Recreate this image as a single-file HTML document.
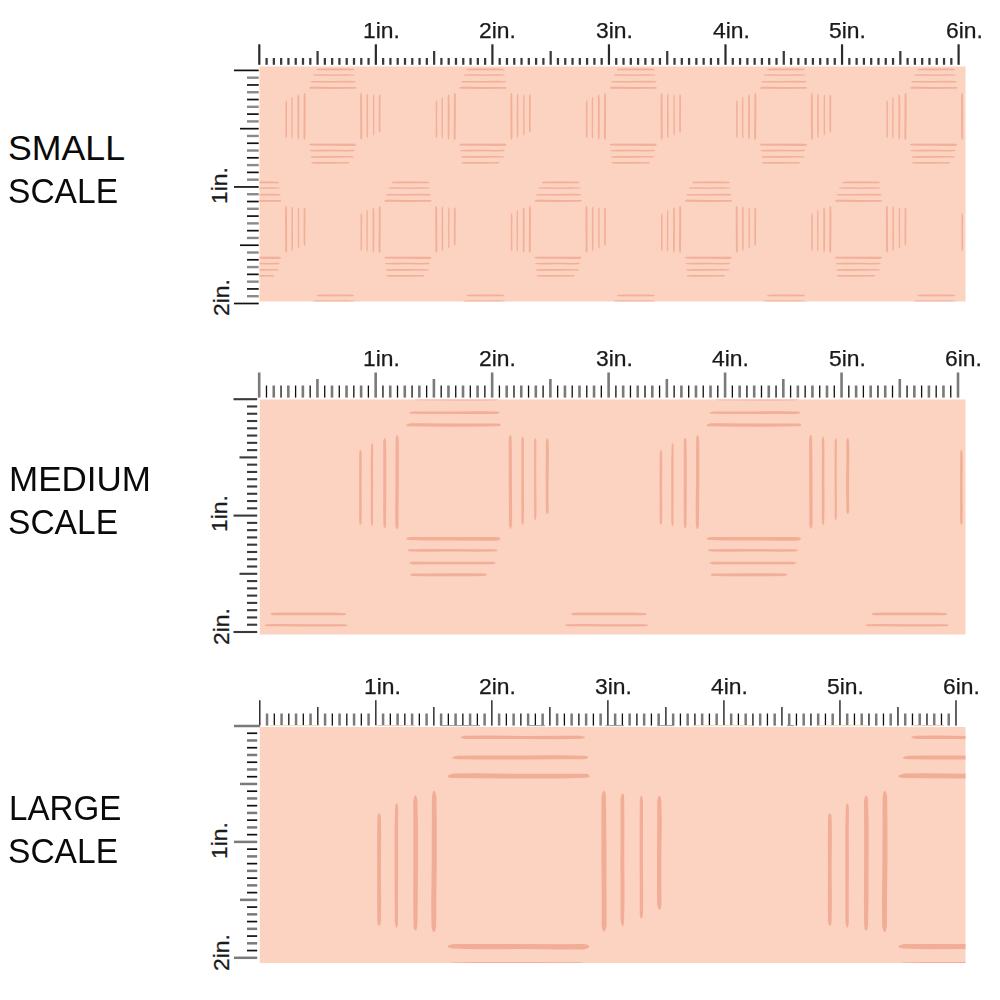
<!DOCTYPE html>
<html><head><meta charset="utf-8"><title>Fabric scale</title>
<style>
html,body{margin:0;padding:0;background:#fff;}
body{width:1000px;height:1000px;position:relative;overflow:hidden;font-family:"Liberation Sans",sans-serif;}
svg{position:absolute;left:0;top:0;}
.tt{position:absolute;font-size:35.7px;line-height:43px;color:#0a0a0a;white-space:nowrap;transform-origin:0 0;}
.tl{position:absolute;font-size:22px;line-height:22px;color:#1a1a1a;-webkit-text-stroke:0.25px #1a1a1a;white-space:nowrap;transform-origin:0 0;transform:scaleX(1.04);}
.ll{position:absolute;font-size:22px;line-height:22px;color:#1a1a1a;-webkit-text-stroke:0.25px #1a1a1a;white-space:nowrap;transform-origin:0 0;transform:rotate(-90deg) translate(0,-100%) scaleX(1.04);}
</style></head><body>
<svg width="1000" height="1000" viewBox="0 0 1000 1000">
<defs><filter id="b1" x="-5%" y="-5%" width="110%" height="110%"><feGaussianBlur stdDeviation="0.35"/></filter><filter id="b2" x="-5%" y="-5%" width="110%" height="110%"><feGaussianBlur stdDeviation="0.4"/></filter><filter id="b3" x="-5%" y="-5%" width="110%" height="110%"><feGaussianBlur stdDeviation="0.5"/></filter></defs>
<rect x="258.20" y="44.30" width="2.20" height="20.50" fill="#2a2a2a"/>
<rect x="265.46" y="58.00" width="2.25" height="6.80" fill="#3a3a3a"/>
<rect x="272.74" y="58.00" width="2.25" height="6.80" fill="#3a3a3a"/>
<rect x="280.03" y="58.00" width="2.25" height="6.80" fill="#3a3a3a"/>
<rect x="287.31" y="58.00" width="2.25" height="6.80" fill="#3a3a3a"/>
<rect x="294.60" y="58.00" width="2.25" height="6.80" fill="#3a3a3a"/>
<rect x="301.88" y="58.00" width="2.25" height="6.80" fill="#3a3a3a"/>
<rect x="309.17" y="58.00" width="2.25" height="6.80" fill="#3a3a3a"/>
<rect x="316.45" y="51.00" width="2.25" height="13.80" fill="#3a3a3a"/>
<rect x="323.73" y="58.00" width="2.25" height="6.80" fill="#3a3a3a"/>
<rect x="331.02" y="58.00" width="2.25" height="6.80" fill="#3a3a3a"/>
<rect x="338.30" y="58.00" width="2.25" height="6.80" fill="#3a3a3a"/>
<rect x="345.59" y="58.00" width="2.25" height="6.80" fill="#3a3a3a"/>
<rect x="352.87" y="58.00" width="2.25" height="6.80" fill="#3a3a3a"/>
<rect x="360.16" y="58.00" width="2.25" height="6.80" fill="#3a3a3a"/>
<rect x="367.44" y="58.00" width="2.25" height="6.80" fill="#3a3a3a"/>
<rect x="374.75" y="44.30" width="2.20" height="20.50" fill="#2a2a2a"/>
<rect x="382.01" y="58.00" width="2.25" height="6.80" fill="#3a3a3a"/>
<rect x="389.29" y="58.00" width="2.25" height="6.80" fill="#3a3a3a"/>
<rect x="396.58" y="58.00" width="2.25" height="6.80" fill="#3a3a3a"/>
<rect x="403.86" y="58.00" width="2.25" height="6.80" fill="#3a3a3a"/>
<rect x="411.15" y="58.00" width="2.25" height="6.80" fill="#3a3a3a"/>
<rect x="418.43" y="58.00" width="2.25" height="6.80" fill="#3a3a3a"/>
<rect x="425.72" y="58.00" width="2.25" height="6.80" fill="#3a3a3a"/>
<rect x="433.00" y="51.00" width="2.25" height="13.80" fill="#3a3a3a"/>
<rect x="440.28" y="58.00" width="2.25" height="6.80" fill="#3a3a3a"/>
<rect x="447.57" y="58.00" width="2.25" height="6.80" fill="#3a3a3a"/>
<rect x="454.85" y="58.00" width="2.25" height="6.80" fill="#3a3a3a"/>
<rect x="462.14" y="58.00" width="2.25" height="6.80" fill="#3a3a3a"/>
<rect x="469.42" y="58.00" width="2.25" height="6.80" fill="#3a3a3a"/>
<rect x="476.71" y="58.00" width="2.25" height="6.80" fill="#3a3a3a"/>
<rect x="483.99" y="58.00" width="2.25" height="6.80" fill="#3a3a3a"/>
<rect x="491.30" y="44.30" width="2.20" height="20.50" fill="#2a2a2a"/>
<rect x="498.56" y="58.00" width="2.25" height="6.80" fill="#3a3a3a"/>
<rect x="505.84" y="58.00" width="2.25" height="6.80" fill="#3a3a3a"/>
<rect x="513.13" y="58.00" width="2.25" height="6.80" fill="#3a3a3a"/>
<rect x="520.41" y="58.00" width="2.25" height="6.80" fill="#3a3a3a"/>
<rect x="527.70" y="58.00" width="2.25" height="6.80" fill="#3a3a3a"/>
<rect x="534.98" y="58.00" width="2.25" height="6.80" fill="#3a3a3a"/>
<rect x="542.27" y="58.00" width="2.25" height="6.80" fill="#3a3a3a"/>
<rect x="549.55" y="51.00" width="2.25" height="13.80" fill="#3a3a3a"/>
<rect x="556.83" y="58.00" width="2.25" height="6.80" fill="#3a3a3a"/>
<rect x="564.12" y="58.00" width="2.25" height="6.80" fill="#3a3a3a"/>
<rect x="571.40" y="58.00" width="2.25" height="6.80" fill="#3a3a3a"/>
<rect x="578.69" y="58.00" width="2.25" height="6.80" fill="#3a3a3a"/>
<rect x="585.97" y="58.00" width="2.25" height="6.80" fill="#3a3a3a"/>
<rect x="593.26" y="58.00" width="2.25" height="6.80" fill="#3a3a3a"/>
<rect x="600.54" y="58.00" width="2.25" height="6.80" fill="#3a3a3a"/>
<rect x="607.85" y="44.30" width="2.20" height="20.50" fill="#2a2a2a"/>
<rect x="615.11" y="58.00" width="2.25" height="6.80" fill="#3a3a3a"/>
<rect x="622.39" y="58.00" width="2.25" height="6.80" fill="#3a3a3a"/>
<rect x="629.68" y="58.00" width="2.25" height="6.80" fill="#3a3a3a"/>
<rect x="636.96" y="58.00" width="2.25" height="6.80" fill="#3a3a3a"/>
<rect x="644.25" y="58.00" width="2.25" height="6.80" fill="#3a3a3a"/>
<rect x="651.53" y="58.00" width="2.25" height="6.80" fill="#3a3a3a"/>
<rect x="658.82" y="58.00" width="2.25" height="6.80" fill="#3a3a3a"/>
<rect x="666.10" y="51.00" width="2.25" height="13.80" fill="#3a3a3a"/>
<rect x="673.38" y="58.00" width="2.25" height="6.80" fill="#3a3a3a"/>
<rect x="680.67" y="58.00" width="2.25" height="6.80" fill="#3a3a3a"/>
<rect x="687.95" y="58.00" width="2.25" height="6.80" fill="#3a3a3a"/>
<rect x="695.24" y="58.00" width="2.25" height="6.80" fill="#3a3a3a"/>
<rect x="702.52" y="58.00" width="2.25" height="6.80" fill="#3a3a3a"/>
<rect x="709.81" y="58.00" width="2.25" height="6.80" fill="#3a3a3a"/>
<rect x="717.09" y="58.00" width="2.25" height="6.80" fill="#3a3a3a"/>
<rect x="724.40" y="44.30" width="2.20" height="20.50" fill="#2a2a2a"/>
<rect x="731.66" y="58.00" width="2.25" height="6.80" fill="#3a3a3a"/>
<rect x="738.94" y="58.00" width="2.25" height="6.80" fill="#3a3a3a"/>
<rect x="746.23" y="58.00" width="2.25" height="6.80" fill="#3a3a3a"/>
<rect x="753.51" y="58.00" width="2.25" height="6.80" fill="#3a3a3a"/>
<rect x="760.80" y="58.00" width="2.25" height="6.80" fill="#3a3a3a"/>
<rect x="768.08" y="58.00" width="2.25" height="6.80" fill="#3a3a3a"/>
<rect x="775.37" y="58.00" width="2.25" height="6.80" fill="#3a3a3a"/>
<rect x="782.65" y="51.00" width="2.25" height="13.80" fill="#3a3a3a"/>
<rect x="789.93" y="58.00" width="2.25" height="6.80" fill="#3a3a3a"/>
<rect x="797.22" y="58.00" width="2.25" height="6.80" fill="#3a3a3a"/>
<rect x="804.50" y="58.00" width="2.25" height="6.80" fill="#3a3a3a"/>
<rect x="811.79" y="58.00" width="2.25" height="6.80" fill="#3a3a3a"/>
<rect x="819.07" y="58.00" width="2.25" height="6.80" fill="#3a3a3a"/>
<rect x="826.36" y="58.00" width="2.25" height="6.80" fill="#3a3a3a"/>
<rect x="833.64" y="58.00" width="2.25" height="6.80" fill="#3a3a3a"/>
<rect x="840.95" y="44.30" width="2.20" height="20.50" fill="#2a2a2a"/>
<rect x="848.21" y="58.00" width="2.25" height="6.80" fill="#3a3a3a"/>
<rect x="855.49" y="58.00" width="2.25" height="6.80" fill="#3a3a3a"/>
<rect x="862.78" y="58.00" width="2.25" height="6.80" fill="#3a3a3a"/>
<rect x="870.06" y="58.00" width="2.25" height="6.80" fill="#3a3a3a"/>
<rect x="877.35" y="58.00" width="2.25" height="6.80" fill="#3a3a3a"/>
<rect x="884.63" y="58.00" width="2.25" height="6.80" fill="#3a3a3a"/>
<rect x="891.92" y="58.00" width="2.25" height="6.80" fill="#3a3a3a"/>
<rect x="899.20" y="51.00" width="2.25" height="13.80" fill="#3a3a3a"/>
<rect x="906.48" y="58.00" width="2.25" height="6.80" fill="#3a3a3a"/>
<rect x="913.77" y="58.00" width="2.25" height="6.80" fill="#3a3a3a"/>
<rect x="921.05" y="58.00" width="2.25" height="6.80" fill="#3a3a3a"/>
<rect x="928.34" y="58.00" width="2.25" height="6.80" fill="#3a3a3a"/>
<rect x="935.62" y="58.00" width="2.25" height="6.80" fill="#3a3a3a"/>
<rect x="942.91" y="58.00" width="2.25" height="6.80" fill="#3a3a3a"/>
<rect x="950.19" y="58.00" width="2.25" height="6.80" fill="#3a3a3a"/>
<rect x="957.50" y="44.30" width="2.20" height="20.50" fill="#2a2a2a"/>
<rect x="234.00" y="69.55" width="24.70" height="1.70" fill="#111"/>
<rect x="247.00" y="76.48" width="11.70" height="2.40" fill="#8a8a8a"/>
<rect x="247.00" y="84.12" width="11.70" height="1.70" fill="#111"/>
<rect x="247.00" y="91.05" width="11.70" height="2.40" fill="#8a8a8a"/>
<rect x="247.00" y="98.69" width="11.70" height="1.70" fill="#111"/>
<rect x="247.00" y="105.62" width="11.70" height="2.40" fill="#8a8a8a"/>
<rect x="247.00" y="113.26" width="11.70" height="1.70" fill="#111"/>
<rect x="247.00" y="120.19" width="11.70" height="2.40" fill="#8a8a8a"/>
<rect x="240.00" y="127.83" width="18.70" height="1.70" fill="#111"/>
<rect x="247.00" y="134.76" width="11.70" height="2.40" fill="#8a8a8a"/>
<rect x="247.00" y="142.39" width="11.70" height="1.70" fill="#111"/>
<rect x="247.00" y="149.33" width="11.70" height="2.40" fill="#8a8a8a"/>
<rect x="247.00" y="156.96" width="11.70" height="1.70" fill="#111"/>
<rect x="247.00" y="163.90" width="11.70" height="2.40" fill="#8a8a8a"/>
<rect x="247.00" y="171.53" width="11.70" height="1.70" fill="#111"/>
<rect x="247.00" y="178.47" width="11.70" height="2.40" fill="#8a8a8a"/>
<rect x="234.00" y="186.10" width="24.70" height="1.70" fill="#111"/>
<rect x="247.00" y="193.03" width="11.70" height="2.40" fill="#8a8a8a"/>
<rect x="247.00" y="200.67" width="11.70" height="1.70" fill="#111"/>
<rect x="247.00" y="207.60" width="11.70" height="2.40" fill="#8a8a8a"/>
<rect x="247.00" y="215.24" width="11.70" height="1.70" fill="#111"/>
<rect x="247.00" y="222.17" width="11.70" height="2.40" fill="#8a8a8a"/>
<rect x="247.00" y="229.81" width="11.70" height="1.70" fill="#111"/>
<rect x="247.00" y="236.74" width="11.70" height="2.40" fill="#8a8a8a"/>
<rect x="240.00" y="244.38" width="18.70" height="1.70" fill="#111"/>
<rect x="247.00" y="251.31" width="11.70" height="2.40" fill="#8a8a8a"/>
<rect x="247.00" y="258.94" width="11.70" height="1.70" fill="#111"/>
<rect x="247.00" y="265.88" width="11.70" height="2.40" fill="#8a8a8a"/>
<rect x="247.00" y="273.51" width="11.70" height="1.70" fill="#111"/>
<rect x="247.00" y="280.45" width="11.70" height="2.40" fill="#8a8a8a"/>
<rect x="247.00" y="288.08" width="11.70" height="1.70" fill="#111"/>
<rect x="247.00" y="295.02" width="11.70" height="2.40" fill="#8a8a8a"/>
<rect x="234.00" y="302.65" width="24.70" height="1.70" fill="#111"/>
<clipPath id="c1"><rect x="259.50" y="66.50" width="706.00" height="235.00"/></clipPath>
<rect x="259.50" y="66.50" width="706.00" height="235.00" fill="#fcd2c0"/>
<g clip-path="url(#c1)" fill="#f1ad95" opacity="0.92"><g filter="url(#b1)">
<polygon points="210.96,213.40 210.57,213.85 210.42,214.89 210.33,220.87 210.35,232.07 210.33,243.27 210.37,249.24 210.60,250.29 210.88,250.73 211.28,250.73 211.69,250.29 211.82,249.24 211.93,243.27 211.81,232.07 211.93,220.87 211.83,214.89 211.64,213.85 211.36,213.40"/>
<polygon points="216.78,210.07 216.50,210.56 216.37,211.72 216.14,218.33 216.16,230.73 216.17,243.13 216.19,249.75 216.56,250.90 216.66,251.40 217.01,251.40 217.37,250.90 217.52,249.75 217.48,243.13 217.56,230.73 217.51,218.33 217.59,211.72 217.41,210.56 217.13,210.07"/>
<polygon points="222.96,207.40 222.70,207.94 222.33,209.20 222.39,216.40 222.39,229.90 222.32,243.40 222.44,250.60 222.57,251.86 223.08,252.40 223.53,252.40 223.69,251.86 223.98,250.60 224.12,243.40 224.19,229.90 224.19,216.40 224.00,209.20 223.75,207.94 223.41,207.40"/>
<polygon points="229.07,205.90 228.89,206.46 228.58,207.78 228.53,215.30 228.50,229.40 228.30,243.50 228.39,251.02 228.76,252.34 229.15,252.90 229.65,252.90 229.96,252.34 230.28,251.02 230.30,243.50 230.50,229.40 230.48,215.30 230.39,207.78 230.04,206.46 229.57,205.90"/>
<polygon points="285.79,205.90 285.44,206.46 285.07,207.77 285.04,215.27 285.06,229.32 285.21,243.37 285.17,250.86 285.54,252.17 285.81,252.73 286.31,252.73 286.69,252.17 287.10,250.86 287.09,243.37 287.05,229.32 286.96,215.27 286.85,207.77 286.64,206.46 286.29,205.90"/>
<polygon points="292.13,206.73 291.80,207.26 291.44,208.50 291.48,215.57 291.41,228.82 291.45,242.07 291.47,249.13 291.82,250.37 292.10,250.90 292.50,250.90 292.71,250.37 292.85,249.13 293.05,242.07 292.94,228.82 292.99,215.57 292.91,208.50 292.79,207.26 292.53,206.73"/>
<polygon points="298.32,207.57 298.11,208.06 297.88,209.20 297.85,215.73 297.83,227.98 297.89,240.23 297.86,246.77 298.08,247.91 298.30,248.40 298.65,248.40 298.91,247.91 299.20,246.77 299.23,240.23 299.13,227.98 299.16,215.73 299.18,209.20 298.92,208.06 298.67,207.57"/>
<polygon points="304.33,207.57 303.98,208.02 303.67,209.08 303.69,215.13 303.60,226.48 303.61,237.83 303.69,243.89 304.00,244.95 304.28,245.40 304.73,245.40 305.10,244.95 305.35,243.89 305.29,237.83 305.31,226.48 305.49,215.13 305.30,209.08 305.08,208.02 304.78,207.57"/>
<polygon points="241.40,182.52 241.85,182.99 242.91,183.20 248.93,183.15 260.23,183.16 271.53,183.16 277.56,183.22 278.61,183.02 279.07,182.57 279.07,182.15 278.61,181.92 277.56,181.74 271.53,181.51 260.23,181.51 248.93,181.47 242.91,181.65 241.85,181.98 241.40,182.10"/>
<polygon points="238.30,188.16 238.80,188.39 239.96,188.67 246.59,188.66 259.02,188.69 271.45,188.72 278.08,188.59 279.24,188.39 279.73,188.25 279.73,187.91 279.24,187.63 278.08,187.40 271.45,187.36 259.02,187.45 246.59,187.31 239.96,187.38 238.80,187.61 238.30,187.82"/>
<polygon points="235.53,195.03 236.08,195.27 237.34,195.41 244.57,195.56 258.13,195.50 271.69,195.47 278.93,195.47 280.19,195.20 280.73,194.84 280.73,194.44 280.19,194.14 278.93,194.03 271.69,193.87 258.13,193.97 244.57,193.96 237.34,194.06 236.08,194.33 235.53,194.63"/>
<polygon points="234.00,201.24 234.57,201.58 235.89,201.71 243.45,201.79 257.62,201.92 271.79,201.86 279.34,201.64 280.67,201.49 281.23,201.26 281.23,200.76 280.67,200.12 279.34,199.97 271.79,199.97 257.62,200.03 243.45,199.80 235.89,199.86 234.57,200.38 234.00,200.74"/>
<polygon points="234.07,257.93 234.63,258.35 235.95,258.58 243.47,258.86 257.57,258.77 271.67,258.92 279.19,258.91 280.50,258.49 281.07,258.05 281.07,257.50 280.50,257.00 279.19,256.78 271.67,256.80 257.57,256.74 243.47,256.74 235.95,256.74 234.63,257.11 234.07,257.38"/>
<polygon points="234.73,263.81 235.27,264.01 236.53,264.31 243.70,264.38 257.15,264.26 270.60,264.43 277.77,264.23 279.03,264.12 279.57,263.80 279.57,263.40 279.03,263.08 277.77,262.85 270.60,262.89 257.15,262.79 243.70,262.78 236.53,262.94 235.27,262.94 234.73,263.41"/>
<polygon points="235.53,270.18 236.05,270.26 237.26,270.75 244.17,270.67 257.13,270.68 270.09,270.61 277.01,270.61 278.21,270.40 278.73,270.08 278.73,269.68 278.21,269.48 277.01,269.21 270.09,269.10 257.13,269.09 244.17,269.10 237.26,269.21 236.05,269.36 235.53,269.78"/>
<polygon points="236.07,275.99 236.52,276.36 237.59,276.59 243.70,276.67 255.15,276.68 266.60,276.62 272.71,276.46 273.78,276.27 274.23,275.87 274.23,275.42 273.78,275.22 272.71,274.96 266.60,274.90 255.15,274.88 243.70,274.99 237.59,274.97 236.52,275.17 236.07,275.54"/>
<polygon points="286.08,100.40 285.69,100.85 285.54,101.89 285.45,107.87 285.46,119.07 285.45,130.27 285.49,136.24 285.71,137.29 286.00,137.73 286.40,137.73 286.81,137.29 286.94,136.24 287.05,130.27 286.93,119.07 287.05,107.87 286.95,101.89 286.75,100.85 286.48,100.40"/>
<polygon points="291.90,97.07 291.61,97.56 291.48,98.72 291.25,105.33 291.28,117.73 291.29,130.13 291.30,136.75 291.68,137.90 291.78,138.40 292.13,138.40 292.49,137.90 292.64,136.75 292.59,130.13 292.68,117.73 292.62,105.33 292.71,98.72 292.52,97.56 292.25,97.07"/>
<polygon points="298.07,94.40 297.82,94.94 297.44,96.20 297.51,103.40 297.51,116.90 297.44,130.40 297.56,137.60 297.69,138.86 298.20,139.40 298.65,139.40 298.81,138.86 299.10,137.60 299.24,130.40 299.31,116.90 299.31,103.40 299.12,96.20 298.87,94.94 298.52,94.40"/>
<polygon points="304.19,92.90 304.01,93.46 303.69,94.78 303.65,102.30 303.62,116.40 303.42,130.50 303.51,138.02 303.87,139.34 304.27,139.90 304.77,139.90 305.08,139.34 305.39,138.02 305.42,130.50 305.62,116.40 305.60,102.30 305.50,94.78 305.15,93.46 304.69,92.90"/>
<polygon points="360.90,92.90 360.56,93.46 360.19,94.77 360.16,102.27 360.17,116.32 360.32,130.37 360.28,137.86 360.66,139.17 360.93,139.73 361.43,139.73 361.81,139.17 362.21,137.86 362.20,130.37 362.17,116.32 362.08,102.27 361.96,94.77 361.75,93.46 361.40,92.90"/>
<polygon points="367.25,93.73 366.91,94.26 366.56,95.50 366.59,102.57 366.53,115.82 366.57,129.07 366.59,136.13 366.94,137.37 367.21,137.90 367.61,137.90 367.83,137.37 367.97,136.13 368.17,129.07 368.06,115.82 368.10,102.57 368.02,95.50 367.91,94.26 367.65,93.73"/>
<polygon points="373.44,94.57 373.22,95.06 373.00,96.20 372.97,102.73 372.95,114.98 373.01,127.23 372.98,133.77 373.20,134.91 373.41,135.40 373.76,135.40 374.02,134.91 374.31,133.77 374.35,127.23 374.25,114.98 374.28,102.73 374.29,96.20 374.04,95.06 373.79,94.57"/>
<polygon points="379.44,94.57 379.10,95.02 378.79,96.08 378.81,102.13 378.71,113.48 378.72,124.83 378.80,130.89 379.12,131.95 379.40,132.40 379.85,132.40 380.22,131.95 380.47,130.89 380.40,124.83 380.43,113.48 380.61,102.13 380.41,96.08 380.19,95.02 379.89,94.57"/>
<polygon points="316.52,69.52 316.97,69.99 318.02,70.20 324.05,70.15 335.35,70.16 346.65,70.16 352.68,70.22 353.73,70.02 354.18,69.57 354.18,69.15 353.73,68.92 352.68,68.74 346.65,68.51 335.35,68.51 324.05,68.47 318.02,68.65 316.97,68.98 316.52,69.10"/>
<polygon points="313.42,75.16 313.91,75.39 315.07,75.67 321.70,75.66 334.13,75.69 346.56,75.72 353.19,75.59 354.35,75.39 354.85,75.25 354.85,74.91 354.35,74.63 353.19,74.40 346.56,74.36 334.13,74.45 321.70,74.31 315.07,74.38 313.91,74.61 313.42,74.82"/>
<polygon points="310.65,82.03 311.19,82.27 312.46,82.41 319.69,82.56 333.25,82.50 346.81,82.47 354.04,82.47 355.31,82.20 355.85,81.84 355.85,81.44 355.31,81.14 354.04,81.03 346.81,80.87 333.25,80.97 319.69,80.96 312.46,81.06 311.19,81.33 310.65,81.63"/>
<polygon points="309.12,88.24 309.68,88.58 311.01,88.71 318.56,88.79 332.73,88.92 346.90,88.86 354.46,88.64 355.78,88.49 356.35,88.26 356.35,87.76 355.78,87.12 354.46,86.97 346.90,86.97 332.73,87.03 318.56,86.80 311.01,86.86 309.68,87.38 309.12,87.74"/>
<polygon points="309.18,144.93 309.75,145.35 311.06,145.58 318.58,145.86 332.68,145.77 346.78,145.92 354.30,145.91 355.62,145.49 356.18,145.05 356.18,144.50 355.62,144.00 354.30,143.78 346.78,143.80 332.68,143.74 318.58,143.74 311.06,143.74 309.75,144.11 309.18,144.38"/>
<polygon points="309.85,150.81 310.39,151.01 311.64,151.31 318.82,151.38 332.27,151.26 345.72,151.43 352.89,151.23 354.15,151.12 354.68,150.80 354.68,150.40 354.15,150.08 352.89,149.85 345.72,149.89 332.27,149.79 318.82,149.78 311.64,149.94 310.39,149.94 309.85,150.41"/>
<polygon points="310.65,157.18 311.17,157.26 312.38,157.75 319.29,157.67 332.25,157.68 345.21,157.61 352.12,157.61 353.33,157.40 353.85,157.08 353.85,156.68 353.33,156.48 352.12,156.21 345.21,156.10 332.25,156.09 319.29,156.10 312.38,156.21 311.17,156.36 310.65,156.78"/>
<polygon points="311.18,162.99 311.64,163.36 312.71,163.59 318.82,163.67 330.27,163.68 341.72,163.62 347.82,163.46 348.89,163.27 349.35,162.87 349.35,162.42 348.89,162.22 347.82,161.96 341.72,161.90 330.27,161.88 318.82,161.99 312.71,161.97 311.64,162.17 311.18,162.54"/>
<polygon points="361.19,213.40 360.81,213.85 360.65,214.89 360.56,220.87 360.58,232.07 360.56,243.27 360.60,249.24 360.83,250.29 361.12,250.73 361.52,250.73 361.93,250.29 362.05,249.24 362.16,243.27 362.05,232.07 362.16,220.87 362.06,214.89 361.87,213.85 361.59,213.40"/>
<polygon points="367.02,210.07 366.73,210.56 366.60,211.72 366.37,218.33 366.39,230.73 366.41,243.13 366.42,249.75 366.80,250.90 366.89,251.40 367.24,251.40 367.60,250.90 367.75,249.75 367.71,243.13 367.79,230.73 367.74,218.33 367.83,211.72 367.64,210.56 367.37,210.07"/>
<polygon points="373.19,207.40 372.94,207.94 372.56,209.20 372.62,216.40 372.63,229.90 372.55,243.40 372.68,250.60 372.81,251.86 373.31,252.40 373.76,252.40 373.93,251.86 374.22,250.60 374.35,243.40 374.43,229.90 374.42,216.40 374.23,209.20 373.99,207.94 373.64,207.40"/>
<polygon points="379.30,205.90 379.13,206.46 378.81,207.78 378.77,215.30 378.73,229.40 378.53,243.50 378.63,251.02 378.99,252.34 379.39,252.90 379.89,252.90 380.19,252.34 380.51,251.02 380.53,243.50 380.73,229.40 380.72,215.30 380.62,207.78 380.27,206.46 379.80,205.90"/>
<polygon points="436.02,205.90 435.68,206.46 435.30,207.77 435.28,215.27 435.29,229.32 435.44,243.37 435.40,250.86 435.78,252.17 436.05,252.73 436.55,252.73 436.92,252.17 437.33,250.86 437.32,243.37 437.28,229.32 437.19,215.27 437.08,207.77 436.87,206.46 436.52,205.90"/>
<polygon points="442.36,206.73 442.03,207.26 441.68,208.50 441.71,215.57 441.65,228.82 441.68,242.07 441.70,249.13 442.06,250.37 442.33,250.90 442.73,250.90 442.94,250.37 443.09,249.13 443.28,242.07 443.18,228.82 443.22,215.57 443.14,208.50 443.02,207.26 442.76,206.73"/>
<polygon points="448.56,207.57 448.34,208.06 448.11,209.20 448.08,215.73 448.06,227.98 448.12,240.23 448.09,246.77 448.31,247.91 448.53,248.40 448.88,248.40 449.14,247.91 449.43,246.77 449.47,240.23 449.36,227.98 449.40,215.73 449.41,209.20 449.16,208.06 448.91,207.57"/>
<polygon points="454.56,207.57 454.21,208.02 453.91,209.08 453.93,215.13 453.83,226.48 453.84,237.83 453.92,243.89 454.23,244.95 454.51,245.40 454.96,245.40 455.34,244.95 455.59,243.89 455.52,237.83 455.55,226.48 455.73,215.13 455.53,209.08 455.31,208.02 455.01,207.57"/>
<polygon points="391.63,182.52 392.09,182.99 393.14,183.20 399.17,183.15 410.47,183.16 421.77,183.16 427.79,183.22 428.85,183.02 429.30,182.57 429.30,182.15 428.85,181.92 427.79,181.74 421.77,181.51 410.47,181.51 399.17,181.47 393.14,181.65 392.09,181.98 391.63,182.10"/>
<polygon points="388.53,188.16 389.03,188.39 390.19,188.67 396.82,188.66 409.25,188.69 421.68,188.72 428.31,188.59 429.47,188.39 429.97,188.25 429.97,187.91 429.47,187.63 428.31,187.40 421.68,187.36 409.25,187.45 396.82,187.31 390.19,187.38 389.03,187.61 388.53,187.82"/>
<polygon points="385.77,195.03 386.31,195.27 387.57,195.41 394.81,195.56 408.37,195.50 421.93,195.47 429.16,195.47 430.42,195.20 430.97,194.84 430.97,194.44 430.42,194.14 429.16,194.03 421.93,193.87 408.37,193.97 394.81,193.96 387.57,194.06 386.31,194.33 385.77,194.63"/>
<polygon points="384.23,201.24 384.80,201.58 386.12,201.71 393.68,201.79 407.85,201.92 422.02,201.86 429.58,201.64 430.90,201.49 431.47,201.26 431.47,200.76 430.90,200.12 429.58,199.97 422.02,199.97 407.85,200.03 393.68,199.80 386.12,199.86 384.80,200.38 384.23,200.74"/>
<polygon points="384.30,257.93 384.86,258.35 386.18,258.58 393.70,258.86 407.80,258.77 421.90,258.92 429.42,258.91 430.74,258.49 431.30,258.05 431.30,257.50 430.74,257.00 429.42,256.78 421.90,256.80 407.80,256.74 393.70,256.74 386.18,256.74 384.86,257.11 384.30,257.38"/>
<polygon points="384.97,263.81 385.50,264.01 386.76,264.31 393.93,264.38 407.38,264.26 420.83,264.43 428.01,264.23 429.26,264.12 429.80,263.80 429.80,263.40 429.26,263.08 428.01,262.85 420.83,262.89 407.38,262.79 393.93,262.78 386.76,262.94 385.50,262.94 384.97,263.41"/>
<polygon points="385.77,270.18 386.29,270.26 387.49,270.75 394.41,270.67 407.37,270.68 420.33,270.61 427.24,270.61 428.45,270.40 428.97,270.08 428.97,269.68 428.45,269.48 427.24,269.21 420.33,269.10 407.37,269.09 394.41,269.10 387.49,269.21 386.29,269.36 385.77,269.78"/>
<polygon points="386.30,275.99 386.76,276.36 387.83,276.59 393.93,276.67 405.38,276.68 416.83,276.62 422.94,276.46 424.01,276.27 424.47,275.87 424.47,275.42 424.01,275.22 422.94,274.96 416.83,274.90 405.38,274.88 393.93,274.99 387.83,274.97 386.76,275.17 386.30,275.54"/>
<polygon points="286.08,326.40 285.69,326.85 285.54,327.89 285.45,333.87 285.46,345.07 285.45,356.27 285.49,362.24 285.71,363.29 286.00,363.73 286.40,363.73 286.81,363.29 286.94,362.24 287.05,356.27 286.93,345.07 287.05,333.87 286.95,327.89 286.75,326.85 286.48,326.40"/>
<polygon points="291.90,323.07 291.61,323.56 291.48,324.72 291.25,331.33 291.28,343.73 291.29,356.13 291.30,362.75 291.68,363.90 291.78,364.40 292.13,364.40 292.49,363.90 292.64,362.75 292.59,356.13 292.68,343.73 292.62,331.33 292.71,324.72 292.52,323.56 292.25,323.07"/>
<polygon points="298.07,320.40 297.82,320.94 297.44,322.20 297.51,329.40 297.51,342.90 297.44,356.40 297.56,363.60 297.69,364.86 298.20,365.40 298.65,365.40 298.81,364.86 299.10,363.60 299.24,356.40 299.31,342.90 299.31,329.40 299.12,322.20 298.87,320.94 298.52,320.40"/>
<polygon points="304.19,318.90 304.01,319.46 303.69,320.78 303.65,328.30 303.62,342.40 303.42,356.50 303.51,364.02 303.87,365.34 304.27,365.90 304.77,365.90 305.08,365.34 305.39,364.02 305.42,356.50 305.62,342.40 305.60,328.30 305.50,320.78 305.15,319.46 304.69,318.90"/>
<polygon points="360.90,318.90 360.56,319.46 360.19,320.77 360.16,328.27 360.17,342.32 360.32,356.37 360.28,363.86 360.66,365.17 360.93,365.73 361.43,365.73 361.81,365.17 362.21,363.86 362.20,356.37 362.17,342.32 362.08,328.27 361.96,320.77 361.75,319.46 361.40,318.90"/>
<polygon points="367.25,319.73 366.91,320.26 366.56,321.50 366.59,328.57 366.53,341.82 366.57,355.07 366.59,362.13 366.94,363.37 367.21,363.90 367.61,363.90 367.83,363.37 367.97,362.13 368.17,355.07 368.06,341.82 368.10,328.57 368.02,321.50 367.91,320.26 367.65,319.73"/>
<polygon points="373.44,320.57 373.22,321.06 373.00,322.20 372.97,328.73 372.95,340.98 373.01,353.23 372.98,359.77 373.20,360.91 373.41,361.40 373.76,361.40 374.02,360.91 374.31,359.77 374.35,353.23 374.25,340.98 374.28,328.73 374.29,322.20 374.04,321.06 373.79,320.57"/>
<polygon points="379.44,320.57 379.10,321.02 378.79,322.08 378.81,328.13 378.71,339.48 378.72,350.83 378.80,356.89 379.12,357.95 379.40,358.40 379.85,358.40 380.22,357.95 380.47,356.89 380.40,350.83 380.43,339.48 380.61,328.13 380.41,322.08 380.19,321.02 379.89,320.57"/>
<polygon points="316.52,295.52 316.97,295.99 318.02,296.20 324.05,296.15 335.35,296.16 346.65,296.16 352.68,296.22 353.73,296.02 354.18,295.57 354.18,295.15 353.73,294.92 352.68,294.74 346.65,294.51 335.35,294.51 324.05,294.47 318.02,294.65 316.97,294.98 316.52,295.10"/>
<polygon points="313.42,301.16 313.91,301.39 315.07,301.67 321.70,301.66 334.13,301.69 346.56,301.72 353.19,301.59 354.35,301.39 354.85,301.25 354.85,300.91 354.35,300.63 353.19,300.40 346.56,300.36 334.13,300.45 321.70,300.31 315.07,300.38 313.91,300.61 313.42,300.82"/>
<polygon points="310.65,308.03 311.19,308.27 312.46,308.41 319.69,308.56 333.25,308.50 346.81,308.47 354.04,308.47 355.31,308.20 355.85,307.84 355.85,307.44 355.31,307.14 354.04,307.03 346.81,306.87 333.25,306.97 319.69,306.96 312.46,307.06 311.19,307.33 310.65,307.63"/>
<polygon points="309.12,314.24 309.68,314.58 311.01,314.71 318.56,314.79 332.73,314.92 346.90,314.86 354.46,314.64 355.78,314.49 356.35,314.26 356.35,313.76 355.78,313.12 354.46,312.97 346.90,312.97 332.73,313.03 318.56,312.80 311.01,312.86 309.68,313.38 309.12,313.74"/>
<polygon points="309.18,370.93 309.75,371.35 311.06,371.58 318.58,371.86 332.68,371.77 346.78,371.92 354.30,371.91 355.62,371.49 356.18,371.05 356.18,370.50 355.62,370.00 354.30,369.78 346.78,369.80 332.68,369.74 318.58,369.74 311.06,369.74 309.75,370.11 309.18,370.38"/>
<polygon points="309.85,376.81 310.39,377.01 311.64,377.31 318.82,377.38 332.27,377.26 345.72,377.43 352.89,377.23 354.15,377.12 354.68,376.80 354.68,376.40 354.15,376.08 352.89,375.85 345.72,375.89 332.27,375.79 318.82,375.78 311.64,375.94 310.39,375.94 309.85,376.41"/>
<polygon points="310.65,383.18 311.17,383.26 312.38,383.75 319.29,383.67 332.25,383.68 345.21,383.61 352.12,383.61 353.33,383.40 353.85,383.08 353.85,382.68 353.33,382.48 352.12,382.21 345.21,382.10 332.25,382.09 319.29,382.10 312.38,382.21 311.17,382.36 310.65,382.78"/>
<polygon points="311.18,388.99 311.64,389.36 312.71,389.59 318.82,389.67 330.27,389.68 341.72,389.62 347.82,389.46 348.89,389.27 349.35,388.87 349.35,388.42 348.89,388.22 347.82,387.96 341.72,387.90 330.27,387.88 318.82,387.99 312.71,387.97 311.64,388.17 311.18,388.54"/>
<polygon points="436.31,100.40 435.92,100.85 435.77,101.89 435.68,107.87 435.70,119.07 435.68,130.27 435.72,136.24 435.95,137.29 436.23,137.73 436.63,137.73 437.04,137.29 437.17,136.24 437.28,130.27 437.16,119.07 437.28,107.87 437.18,101.89 436.99,100.85 436.71,100.40"/>
<polygon points="442.13,97.07 441.85,97.56 441.72,98.72 441.49,105.33 441.51,117.73 441.52,130.13 441.54,136.75 441.91,137.90 442.01,138.40 442.36,138.40 442.72,137.90 442.87,136.75 442.83,130.13 442.91,117.73 442.86,105.33 442.94,98.72 442.76,97.56 442.48,97.07"/>
<polygon points="448.31,94.40 448.05,94.94 447.68,96.20 447.74,103.40 447.74,116.90 447.67,130.40 447.79,137.60 447.92,138.86 448.43,139.40 448.88,139.40 449.04,138.86 449.33,137.60 449.47,130.40 449.54,116.90 449.54,103.40 449.35,96.20 449.10,94.94 448.76,94.40"/>
<polygon points="454.42,92.90 454.24,93.46 453.93,94.78 453.88,102.30 453.85,116.40 453.65,130.50 453.74,138.02 454.11,139.34 454.50,139.90 455.00,139.90 455.31,139.34 455.63,138.02 455.65,130.50 455.85,116.40 455.83,102.30 455.74,94.78 455.39,93.46 454.92,92.90"/>
<polygon points="511.14,92.90 510.79,93.46 510.42,94.77 510.39,102.27 510.41,116.32 510.56,130.37 510.52,137.86 510.89,139.17 511.16,139.73 511.66,139.73 512.04,139.17 512.45,137.86 512.44,130.37 512.40,116.32 512.31,102.27 512.20,94.77 511.99,93.46 511.64,92.90"/>
<polygon points="517.48,93.73 517.15,94.26 516.79,95.50 516.83,102.57 516.76,115.82 516.80,129.07 516.82,136.13 517.17,137.37 517.45,137.90 517.85,137.90 518.06,137.37 518.20,136.13 518.40,129.07 518.29,115.82 518.34,102.57 518.26,95.50 518.14,94.26 517.88,93.73"/>
<polygon points="523.67,94.57 523.46,95.06 523.23,96.20 523.20,102.73 523.18,114.98 523.24,127.23 523.21,133.77 523.43,134.91 523.65,135.40 524.00,135.40 524.26,134.91 524.55,133.77 524.58,127.23 524.48,114.98 524.51,102.73 524.53,96.20 524.27,95.06 524.02,94.57"/>
<polygon points="529.68,94.57 529.33,95.02 529.02,96.08 529.04,102.13 528.95,113.48 528.96,124.83 529.04,130.89 529.35,131.95 529.63,132.40 530.08,132.40 530.45,131.95 530.70,130.89 530.64,124.83 530.66,113.48 530.84,102.13 530.65,96.08 530.43,95.02 530.13,94.57"/>
<polygon points="466.75,69.52 467.20,69.99 468.26,70.20 474.28,70.15 485.58,70.16 496.88,70.16 502.91,70.22 503.96,70.02 504.42,69.57 504.42,69.15 503.96,68.92 502.91,68.74 496.88,68.51 485.58,68.51 474.28,68.47 468.26,68.65 467.20,68.98 466.75,69.10"/>
<polygon points="463.65,75.16 464.15,75.39 465.31,75.67 471.94,75.66 484.37,75.69 496.80,75.72 503.43,75.59 504.59,75.39 505.08,75.25 505.08,74.91 504.59,74.63 503.43,74.40 496.80,74.36 484.37,74.45 471.94,74.31 465.31,74.38 464.15,74.61 463.65,74.82"/>
<polygon points="460.88,82.03 461.43,82.27 462.69,82.41 469.92,82.56 483.48,82.50 497.04,82.47 504.28,82.47 505.54,82.20 506.08,81.84 506.08,81.44 505.54,81.14 504.28,81.03 497.04,80.87 483.48,80.97 469.92,80.96 462.69,81.06 461.43,81.33 460.88,81.63"/>
<polygon points="459.35,88.24 459.92,88.58 461.24,88.71 468.80,88.79 482.97,88.92 497.14,88.86 504.69,88.64 506.02,88.49 506.58,88.26 506.58,87.76 506.02,87.12 504.69,86.97 497.14,86.97 482.97,87.03 468.80,86.80 461.24,86.86 459.92,87.38 459.35,87.74"/>
<polygon points="459.42,144.93 459.98,145.35 461.30,145.58 468.82,145.86 482.92,145.77 497.02,145.92 504.54,145.91 505.85,145.49 506.42,145.05 506.42,144.50 505.85,144.00 504.54,143.78 497.02,143.80 482.92,143.74 468.82,143.74 461.30,143.74 459.98,144.11 459.42,144.38"/>
<polygon points="460.08,150.81 460.62,151.01 461.88,151.31 469.05,151.38 482.50,151.26 495.95,151.43 503.12,151.23 504.38,151.12 504.92,150.80 504.92,150.40 504.38,150.08 503.12,149.85 495.95,149.89 482.50,149.79 469.05,149.78 461.88,149.94 460.62,149.94 460.08,150.41"/>
<polygon points="460.88,157.18 461.40,157.26 462.61,157.75 469.52,157.67 482.48,157.68 495.44,157.61 502.36,157.61 503.56,157.40 504.08,157.08 504.08,156.68 503.56,156.48 502.36,156.21 495.44,156.10 482.48,156.09 469.52,156.10 462.61,156.21 461.40,156.36 460.88,156.78"/>
<polygon points="461.42,162.99 461.87,163.36 462.94,163.59 469.05,163.67 480.50,163.68 491.95,163.62 498.06,163.46 499.13,163.27 499.58,162.87 499.58,162.42 499.13,162.22 498.06,161.96 491.95,161.90 480.50,161.88 469.05,161.99 462.94,161.97 461.87,162.17 461.42,162.54"/>
<polygon points="511.43,213.40 511.04,213.85 510.89,214.89 510.80,220.87 510.81,232.07 510.80,243.27 510.84,249.24 511.06,250.29 511.35,250.73 511.75,250.73 512.16,250.29 512.29,249.24 512.40,243.27 512.28,232.07 512.40,220.87 512.30,214.89 512.10,213.85 511.83,213.40"/>
<polygon points="517.25,210.07 516.96,210.56 516.83,211.72 516.60,218.33 516.63,230.73 516.64,243.13 516.65,249.75 517.03,250.90 517.13,251.40 517.48,251.40 517.84,250.90 517.99,249.75 517.94,243.13 518.03,230.73 517.97,218.33 518.06,211.72 517.87,210.56 517.60,210.07"/>
<polygon points="523.42,207.40 523.17,207.94 522.79,209.20 522.86,216.40 522.86,229.90 522.79,243.40 522.91,250.60 523.04,251.86 523.55,252.40 524.00,252.40 524.16,251.86 524.45,250.60 524.59,243.40 524.66,229.90 524.66,216.40 524.47,209.20 524.22,207.94 523.87,207.40"/>
<polygon points="529.54,205.90 529.36,206.46 529.04,207.78 529.00,215.30 528.97,229.40 528.77,243.50 528.86,251.02 529.22,252.34 529.62,252.90 530.12,252.90 530.43,252.34 530.74,251.02 530.77,243.50 530.97,229.40 530.95,215.30 530.85,207.78 530.50,206.46 530.04,205.90"/>
<polygon points="586.25,205.90 585.91,206.46 585.54,207.77 585.51,215.27 585.52,229.32 585.67,243.37 585.63,250.86 586.01,252.17 586.28,252.73 586.78,252.73 587.16,252.17 587.56,250.86 587.55,243.37 587.52,229.32 587.43,215.27 587.31,207.77 587.10,206.46 586.75,205.90"/>
<polygon points="592.60,206.73 592.26,207.26 591.91,208.50 591.94,215.57 591.88,228.82 591.92,242.07 591.94,249.13 592.29,250.37 592.56,250.90 592.96,250.90 593.18,250.37 593.32,249.13 593.52,242.07 593.41,228.82 593.45,215.57 593.37,208.50 593.26,207.26 593.00,206.73"/>
<polygon points="598.79,207.57 598.57,208.06 598.35,209.20 598.32,215.73 598.30,227.98 598.36,240.23 598.33,246.77 598.55,247.91 598.76,248.40 599.11,248.40 599.37,247.91 599.66,246.77 599.70,240.23 599.60,227.98 599.63,215.73 599.64,209.20 599.39,208.06 599.14,207.57"/>
<polygon points="604.79,207.57 604.45,208.02 604.14,209.08 604.16,215.13 604.06,226.48 604.07,237.83 604.15,243.89 604.47,244.95 604.75,245.40 605.20,245.40 605.57,244.95 605.82,243.89 605.75,237.83 605.78,226.48 605.96,215.13 605.76,209.08 605.54,208.02 605.24,207.57"/>
<polygon points="541.87,182.52 542.32,182.99 543.37,183.20 549.40,183.15 560.70,183.16 572.00,183.16 578.03,183.22 579.08,183.02 579.53,182.57 579.53,182.15 579.08,181.92 578.03,181.74 572.00,181.51 560.70,181.51 549.40,181.47 543.37,181.65 542.32,181.98 541.87,182.10"/>
<polygon points="538.77,188.16 539.26,188.39 540.42,188.67 547.05,188.66 559.48,188.69 571.91,188.72 578.54,188.59 579.70,188.39 580.20,188.25 580.20,187.91 579.70,187.63 578.54,187.40 571.91,187.36 559.48,187.45 547.05,187.31 540.42,187.38 539.26,187.61 538.77,187.82"/>
<polygon points="536.00,195.03 536.54,195.27 537.81,195.41 545.04,195.56 558.60,195.50 572.16,195.47 579.39,195.47 580.66,195.20 581.20,194.84 581.20,194.44 580.66,194.14 579.39,194.03 572.16,193.87 558.60,193.97 545.04,193.96 537.81,194.06 536.54,194.33 536.00,194.63"/>
<polygon points="534.47,201.24 535.03,201.58 536.36,201.71 543.91,201.79 558.08,201.92 572.25,201.86 579.81,201.64 581.13,201.49 581.70,201.26 581.70,200.76 581.13,200.12 579.81,199.97 572.25,199.97 558.08,200.03 543.91,199.80 536.36,199.86 535.03,200.38 534.47,200.74"/>
<polygon points="534.53,257.93 535.10,258.35 536.41,258.58 543.93,258.86 558.03,258.77 572.13,258.92 579.65,258.91 580.97,258.49 581.53,258.05 581.53,257.50 580.97,257.00 579.65,256.78 572.13,256.80 558.03,256.74 543.93,256.74 536.41,256.74 535.10,257.11 534.53,257.38"/>
<polygon points="535.20,263.81 535.74,264.01 536.99,264.31 544.17,264.38 557.62,264.26 571.07,264.43 578.24,264.23 579.50,264.12 580.03,263.80 580.03,263.40 579.50,263.08 578.24,262.85 571.07,262.89 557.62,262.79 544.17,262.78 536.99,262.94 535.74,262.94 535.20,263.41"/>
<polygon points="536.00,270.18 536.52,270.26 537.73,270.75 544.64,270.67 557.60,270.68 570.56,270.61 577.47,270.61 578.68,270.40 579.20,270.08 579.20,269.68 578.68,269.48 577.47,269.21 570.56,269.10 557.60,269.09 544.64,269.10 537.73,269.21 536.52,269.36 536.00,269.78"/>
<polygon points="536.53,275.99 536.99,276.36 538.06,276.59 544.17,276.67 555.62,276.68 567.07,276.62 573.17,276.46 574.24,276.27 574.70,275.87 574.70,275.42 574.24,275.22 573.17,274.96 567.07,274.90 555.62,274.88 544.17,274.99 538.06,274.97 536.99,275.17 536.53,275.54"/>
<polygon points="436.31,326.40 435.92,326.85 435.77,327.89 435.68,333.87 435.70,345.07 435.68,356.27 435.72,362.24 435.95,363.29 436.23,363.73 436.63,363.73 437.04,363.29 437.17,362.24 437.28,356.27 437.16,345.07 437.28,333.87 437.18,327.89 436.99,326.85 436.71,326.40"/>
<polygon points="442.13,323.07 441.85,323.56 441.72,324.72 441.49,331.33 441.51,343.73 441.52,356.13 441.54,362.75 441.91,363.90 442.01,364.40 442.36,364.40 442.72,363.90 442.87,362.75 442.83,356.13 442.91,343.73 442.86,331.33 442.94,324.72 442.76,323.56 442.48,323.07"/>
<polygon points="448.31,320.40 448.05,320.94 447.68,322.20 447.74,329.40 447.74,342.90 447.67,356.40 447.79,363.60 447.92,364.86 448.43,365.40 448.88,365.40 449.04,364.86 449.33,363.60 449.47,356.40 449.54,342.90 449.54,329.40 449.35,322.20 449.10,320.94 448.76,320.40"/>
<polygon points="454.42,318.90 454.24,319.46 453.93,320.78 453.88,328.30 453.85,342.40 453.65,356.50 453.74,364.02 454.11,365.34 454.50,365.90 455.00,365.90 455.31,365.34 455.63,364.02 455.65,356.50 455.85,342.40 455.83,328.30 455.74,320.78 455.39,319.46 454.92,318.90"/>
<polygon points="511.14,318.90 510.79,319.46 510.42,320.77 510.39,328.27 510.41,342.32 510.56,356.37 510.52,363.86 510.89,365.17 511.16,365.73 511.66,365.73 512.04,365.17 512.45,363.86 512.44,356.37 512.40,342.32 512.31,328.27 512.20,320.77 511.99,319.46 511.64,318.90"/>
<polygon points="517.48,319.73 517.15,320.26 516.79,321.50 516.83,328.57 516.76,341.82 516.80,355.07 516.82,362.13 517.17,363.37 517.45,363.90 517.85,363.90 518.06,363.37 518.20,362.13 518.40,355.07 518.29,341.82 518.34,328.57 518.26,321.50 518.14,320.26 517.88,319.73"/>
<polygon points="523.67,320.57 523.46,321.06 523.23,322.20 523.20,328.73 523.18,340.98 523.24,353.23 523.21,359.77 523.43,360.91 523.65,361.40 524.00,361.40 524.26,360.91 524.55,359.77 524.58,353.23 524.48,340.98 524.51,328.73 524.53,322.20 524.27,321.06 524.02,320.57"/>
<polygon points="529.68,320.57 529.33,321.02 529.02,322.08 529.04,328.13 528.95,339.48 528.96,350.83 529.04,356.89 529.35,357.95 529.63,358.40 530.08,358.40 530.45,357.95 530.70,356.89 530.64,350.83 530.66,339.48 530.84,328.13 530.65,322.08 530.43,321.02 530.13,320.57"/>
<polygon points="466.75,295.52 467.20,295.99 468.26,296.20 474.28,296.15 485.58,296.16 496.88,296.16 502.91,296.22 503.96,296.02 504.42,295.57 504.42,295.15 503.96,294.92 502.91,294.74 496.88,294.51 485.58,294.51 474.28,294.47 468.26,294.65 467.20,294.98 466.75,295.10"/>
<polygon points="463.65,301.16 464.15,301.39 465.31,301.67 471.94,301.66 484.37,301.69 496.80,301.72 503.43,301.59 504.59,301.39 505.08,301.25 505.08,300.91 504.59,300.63 503.43,300.40 496.80,300.36 484.37,300.45 471.94,300.31 465.31,300.38 464.15,300.61 463.65,300.82"/>
<polygon points="460.88,308.03 461.43,308.27 462.69,308.41 469.92,308.56 483.48,308.50 497.04,308.47 504.28,308.47 505.54,308.20 506.08,307.84 506.08,307.44 505.54,307.14 504.28,307.03 497.04,306.87 483.48,306.97 469.92,306.96 462.69,307.06 461.43,307.33 460.88,307.63"/>
<polygon points="459.35,314.24 459.92,314.58 461.24,314.71 468.80,314.79 482.97,314.92 497.14,314.86 504.69,314.64 506.02,314.49 506.58,314.26 506.58,313.76 506.02,313.12 504.69,312.97 497.14,312.97 482.97,313.03 468.80,312.80 461.24,312.86 459.92,313.38 459.35,313.74"/>
<polygon points="459.42,370.93 459.98,371.35 461.30,371.58 468.82,371.86 482.92,371.77 497.02,371.92 504.54,371.91 505.85,371.49 506.42,371.05 506.42,370.50 505.85,370.00 504.54,369.78 497.02,369.80 482.92,369.74 468.82,369.74 461.30,369.74 459.98,370.11 459.42,370.38"/>
<polygon points="460.08,376.81 460.62,377.01 461.88,377.31 469.05,377.38 482.50,377.26 495.95,377.43 503.12,377.23 504.38,377.12 504.92,376.80 504.92,376.40 504.38,376.08 503.12,375.85 495.95,375.89 482.50,375.79 469.05,375.78 461.88,375.94 460.62,375.94 460.08,376.41"/>
<polygon points="460.88,383.18 461.40,383.26 462.61,383.75 469.52,383.67 482.48,383.68 495.44,383.61 502.36,383.61 503.56,383.40 504.08,383.08 504.08,382.68 503.56,382.48 502.36,382.21 495.44,382.10 482.48,382.09 469.52,382.10 462.61,382.21 461.40,382.36 460.88,382.78"/>
<polygon points="461.42,388.99 461.87,389.36 462.94,389.59 469.05,389.67 480.50,389.68 491.95,389.62 498.06,389.46 499.13,389.27 499.58,388.87 499.58,388.42 499.13,388.22 498.06,387.96 491.95,387.90 480.50,387.88 469.05,387.99 462.94,387.97 461.87,388.17 461.42,388.54"/>
<polygon points="586.54,100.40 586.16,100.85 586.00,101.89 585.91,107.87 585.93,119.07 585.91,130.27 585.95,136.24 586.18,137.29 586.47,137.73 586.87,137.73 587.28,137.29 587.40,136.24 587.51,130.27 587.40,119.07 587.51,107.87 587.41,101.89 587.22,100.85 586.94,100.40"/>
<polygon points="592.37,97.07 592.08,97.56 591.95,98.72 591.72,105.33 591.74,117.73 591.76,130.13 591.77,136.75 592.15,137.90 592.24,138.40 592.59,138.40 592.95,137.90 593.10,136.75 593.06,130.13 593.14,117.73 593.09,105.33 593.18,98.72 592.99,97.56 592.72,97.07"/>
<polygon points="598.54,94.40 598.29,94.94 597.91,96.20 597.97,103.40 597.98,116.90 597.90,130.40 598.03,137.60 598.16,138.86 598.66,139.40 599.11,139.40 599.28,138.86 599.57,137.60 599.70,130.40 599.78,116.90 599.77,103.40 599.58,96.20 599.34,94.94 598.99,94.40"/>
<polygon points="604.65,92.90 604.48,93.46 604.16,94.78 604.12,102.30 604.08,116.40 603.88,130.50 603.98,138.02 604.34,139.34 604.74,139.90 605.24,139.90 605.54,139.34 605.86,138.02 605.88,130.50 606.08,116.40 606.07,102.30 605.97,94.78 605.62,93.46 605.15,92.90"/>
<polygon points="661.37,92.90 661.03,93.46 660.65,94.77 660.63,102.27 660.64,116.32 660.79,130.37 660.75,137.86 661.13,139.17 661.40,139.73 661.90,139.73 662.27,139.17 662.68,137.86 662.67,130.37 662.63,116.32 662.54,102.27 662.43,94.77 662.22,93.46 661.87,92.90"/>
<polygon points="667.71,93.73 667.38,94.26 667.03,95.50 667.06,102.57 667.00,115.82 667.03,129.07 667.05,136.13 667.41,137.37 667.68,137.90 668.08,137.90 668.29,137.37 668.44,136.13 668.63,129.07 668.53,115.82 668.57,102.57 668.49,95.50 668.37,94.26 668.11,93.73"/>
<polygon points="673.91,94.57 673.69,95.06 673.46,96.20 673.43,102.73 673.41,114.98 673.47,127.23 673.44,133.77 673.66,134.91 673.88,135.40 674.23,135.40 674.49,134.91 674.78,133.77 674.82,127.23 674.71,114.98 674.75,102.73 674.76,96.20 674.51,95.06 674.26,94.57"/>
<polygon points="679.91,94.57 679.56,95.02 679.26,96.08 679.28,102.13 679.18,113.48 679.19,124.83 679.27,130.89 679.58,131.95 679.86,132.40 680.31,132.40 680.69,131.95 680.94,130.89 680.87,124.83 680.90,113.48 681.08,102.13 680.88,96.08 680.66,95.02 680.36,94.57"/>
<polygon points="616.98,69.52 617.44,69.99 618.49,70.20 624.52,70.15 635.82,70.16 647.12,70.16 653.14,70.22 654.20,70.02 654.65,69.57 654.65,69.15 654.20,68.92 653.14,68.74 647.12,68.51 635.82,68.51 624.52,68.47 618.49,68.65 617.44,68.98 616.98,69.10"/>
<polygon points="613.88,75.16 614.38,75.39 615.54,75.67 622.17,75.66 634.60,75.69 647.03,75.72 653.66,75.59 654.82,75.39 655.32,75.25 655.32,74.91 654.82,74.63 653.66,74.40 647.03,74.36 634.60,74.45 622.17,74.31 615.54,74.38 614.38,74.61 613.88,74.82"/>
<polygon points="611.12,82.03 611.66,82.27 612.92,82.41 620.16,82.56 633.72,82.50 647.28,82.47 654.51,82.47 655.77,82.20 656.32,81.84 656.32,81.44 655.77,81.14 654.51,81.03 647.28,80.87 633.72,80.97 620.16,80.96 612.92,81.06 611.66,81.33 611.12,81.63"/>
<polygon points="609.58,88.24 610.15,88.58 611.47,88.71 619.03,88.79 633.20,88.92 647.37,88.86 654.93,88.64 656.25,88.49 656.82,88.26 656.82,87.76 656.25,87.12 654.93,86.97 647.37,86.97 633.20,87.03 619.03,86.80 611.47,86.86 610.15,87.38 609.58,87.74"/>
<polygon points="609.65,144.93 610.21,145.35 611.53,145.58 619.05,145.86 633.15,145.77 647.25,145.92 654.77,145.91 656.09,145.49 656.65,145.05 656.65,144.50 656.09,144.00 654.77,143.78 647.25,143.80 633.15,143.74 619.05,143.74 611.53,143.74 610.21,144.11 609.65,144.38"/>
<polygon points="610.32,150.81 610.85,151.01 612.11,151.31 619.28,151.38 632.73,151.26 646.18,151.43 653.36,151.23 654.61,151.12 655.15,150.80 655.15,150.40 654.61,150.08 653.36,149.85 646.18,149.89 632.73,149.79 619.28,149.78 612.11,149.94 610.85,149.94 610.32,150.41"/>
<polygon points="611.12,157.18 611.64,157.26 612.84,157.75 619.76,157.67 632.72,157.68 645.68,157.61 652.59,157.61 653.80,157.40 654.32,157.08 654.32,156.68 653.80,156.48 652.59,156.21 645.68,156.10 632.72,156.09 619.76,156.10 612.84,156.21 611.64,156.36 611.12,156.78"/>
<polygon points="611.65,162.99 612.11,163.36 613.18,163.59 619.28,163.67 630.73,163.68 642.18,163.62 648.29,163.46 649.36,163.27 649.82,162.87 649.82,162.42 649.36,162.22 648.29,161.96 642.18,161.90 630.73,161.88 619.28,161.99 613.18,161.97 612.11,162.17 611.65,162.54"/>
<polygon points="661.66,213.40 661.27,213.85 661.12,214.89 661.03,220.87 661.05,232.07 661.03,243.27 661.07,249.24 661.30,250.29 661.58,250.73 661.98,250.73 662.39,250.29 662.52,249.24 662.63,243.27 662.51,232.07 662.63,220.87 662.53,214.89 662.34,213.85 662.06,213.40"/>
<polygon points="667.48,210.07 667.20,210.56 667.07,211.72 666.84,218.33 666.86,230.73 666.87,243.13 666.89,249.75 667.26,250.90 667.36,251.40 667.71,251.40 668.07,250.90 668.22,249.75 668.18,243.13 668.26,230.73 668.21,218.33 668.29,211.72 668.11,210.56 667.83,210.07"/>
<polygon points="673.66,207.40 673.40,207.94 673.03,209.20 673.09,216.40 673.09,229.90 673.02,243.40 673.14,250.60 673.27,251.86 673.78,252.40 674.23,252.40 674.39,251.86 674.68,250.60 674.82,243.40 674.89,229.90 674.89,216.40 674.70,209.20 674.45,207.94 674.11,207.40"/>
<polygon points="679.77,205.90 679.59,206.46 679.28,207.78 679.23,215.30 679.20,229.40 679.00,243.50 679.09,251.02 679.46,252.34 679.85,252.90 680.35,252.90 680.66,252.34 680.98,251.02 681.00,243.50 681.20,229.40 681.18,215.30 681.09,207.78 680.74,206.46 680.27,205.90"/>
<polygon points="736.49,205.90 736.14,206.46 735.77,207.77 735.74,215.27 735.76,229.32 735.91,243.37 735.87,250.86 736.24,252.17 736.51,252.73 737.01,252.73 737.39,252.17 737.80,250.86 737.79,243.37 737.75,229.32 737.66,215.27 737.55,207.77 737.34,206.46 736.99,205.90"/>
<polygon points="742.83,206.73 742.50,207.26 742.14,208.50 742.18,215.57 742.11,228.82 742.15,242.07 742.17,249.13 742.52,250.37 742.80,250.90 743.20,250.90 743.41,250.37 743.55,249.13 743.75,242.07 743.64,228.82 743.69,215.57 743.61,208.50 743.49,207.26 743.23,206.73"/>
<polygon points="749.02,207.57 748.81,208.06 748.58,209.20 748.55,215.73 748.53,227.98 748.59,240.23 748.56,246.77 748.78,247.91 749.00,248.40 749.35,248.40 749.61,247.91 749.90,246.77 749.93,240.23 749.83,227.98 749.86,215.73 749.88,209.20 749.62,208.06 749.37,207.57"/>
<polygon points="755.03,207.57 754.68,208.02 754.37,209.08 754.39,215.13 754.30,226.48 754.31,237.83 754.39,243.89 754.70,244.95 754.98,245.40 755.43,245.40 755.80,244.95 756.05,243.89 755.99,237.83 756.01,226.48 756.19,215.13 756.00,209.08 755.78,208.02 755.48,207.57"/>
<polygon points="692.10,182.52 692.55,182.99 693.61,183.20 699.63,183.15 710.93,183.16 722.23,183.16 728.26,183.22 729.31,183.02 729.77,182.57 729.77,182.15 729.31,181.92 728.26,181.74 722.23,181.51 710.93,181.51 699.63,181.47 693.61,181.65 692.55,181.98 692.10,182.10"/>
<polygon points="689.00,188.16 689.50,188.39 690.66,188.67 697.29,188.66 709.72,188.69 722.15,188.72 728.78,188.59 729.94,188.39 730.43,188.25 730.43,187.91 729.94,187.63 728.78,187.40 722.15,187.36 709.72,187.45 697.29,187.31 690.66,187.38 689.50,187.61 689.00,187.82"/>
<polygon points="686.23,195.03 686.78,195.27 688.04,195.41 695.27,195.56 708.83,195.50 722.39,195.47 729.63,195.47 730.89,195.20 731.43,194.84 731.43,194.44 730.89,194.14 729.63,194.03 722.39,193.87 708.83,193.97 695.27,193.96 688.04,194.06 686.78,194.33 686.23,194.63"/>
<polygon points="684.70,201.24 685.27,201.58 686.59,201.71 694.15,201.79 708.32,201.92 722.49,201.86 730.04,201.64 731.37,201.49 731.93,201.26 731.93,200.76 731.37,200.12 730.04,199.97 722.49,199.97 708.32,200.03 694.15,199.80 686.59,199.86 685.27,200.38 684.70,200.74"/>
<polygon points="684.77,257.93 685.33,258.35 686.65,258.58 694.17,258.86 708.27,258.77 722.37,258.92 729.89,258.91 731.20,258.49 731.77,258.05 731.77,257.50 731.20,257.00 729.89,256.78 722.37,256.80 708.27,256.74 694.17,256.74 686.65,256.74 685.33,257.11 684.77,257.38"/>
<polygon points="685.43,263.81 685.97,264.01 687.23,264.31 694.40,264.38 707.85,264.26 721.30,264.43 728.47,264.23 729.73,264.12 730.27,263.80 730.27,263.40 729.73,263.08 728.47,262.85 721.30,262.89 707.85,262.79 694.40,262.78 687.23,262.94 685.97,262.94 685.43,263.41"/>
<polygon points="686.23,270.18 686.75,270.26 687.96,270.75 694.87,270.67 707.83,270.68 720.79,270.61 727.71,270.61 728.91,270.40 729.43,270.08 729.43,269.68 728.91,269.48 727.71,269.21 720.79,269.10 707.83,269.09 694.87,269.10 687.96,269.21 686.75,269.36 686.23,269.78"/>
<polygon points="686.77,275.99 687.22,276.36 688.29,276.59 694.40,276.67 705.85,276.68 717.30,276.62 723.41,276.46 724.48,276.27 724.93,275.87 724.93,275.42 724.48,275.22 723.41,274.96 717.30,274.90 705.85,274.88 694.40,274.99 688.29,274.97 687.22,275.17 686.77,275.54"/>
<polygon points="586.54,326.40 586.16,326.85 586.00,327.89 585.91,333.87 585.93,345.07 585.91,356.27 585.95,362.24 586.18,363.29 586.47,363.73 586.87,363.73 587.28,363.29 587.40,362.24 587.51,356.27 587.40,345.07 587.51,333.87 587.41,327.89 587.22,326.85 586.94,326.40"/>
<polygon points="592.37,323.07 592.08,323.56 591.95,324.72 591.72,331.33 591.74,343.73 591.76,356.13 591.77,362.75 592.15,363.90 592.24,364.40 592.59,364.40 592.95,363.90 593.10,362.75 593.06,356.13 593.14,343.73 593.09,331.33 593.18,324.72 592.99,323.56 592.72,323.07"/>
<polygon points="598.54,320.40 598.29,320.94 597.91,322.20 597.97,329.40 597.98,342.90 597.90,356.40 598.03,363.60 598.16,364.86 598.66,365.40 599.11,365.40 599.28,364.86 599.57,363.60 599.70,356.40 599.78,342.90 599.77,329.40 599.58,322.20 599.34,320.94 598.99,320.40"/>
<polygon points="604.65,318.90 604.48,319.46 604.16,320.78 604.12,328.30 604.08,342.40 603.88,356.50 603.98,364.02 604.34,365.34 604.74,365.90 605.24,365.90 605.54,365.34 605.86,364.02 605.88,356.50 606.08,342.40 606.07,328.30 605.97,320.78 605.62,319.46 605.15,318.90"/>
<polygon points="661.37,318.90 661.03,319.46 660.65,320.77 660.63,328.27 660.64,342.32 660.79,356.37 660.75,363.86 661.13,365.17 661.40,365.73 661.90,365.73 662.27,365.17 662.68,363.86 662.67,356.37 662.63,342.32 662.54,328.27 662.43,320.77 662.22,319.46 661.87,318.90"/>
<polygon points="667.71,319.73 667.38,320.26 667.03,321.50 667.06,328.57 667.00,341.82 667.03,355.07 667.05,362.13 667.41,363.37 667.68,363.90 668.08,363.90 668.29,363.37 668.44,362.13 668.63,355.07 668.53,341.82 668.57,328.57 668.49,321.50 668.37,320.26 668.11,319.73"/>
<polygon points="673.91,320.57 673.69,321.06 673.46,322.20 673.43,328.73 673.41,340.98 673.47,353.23 673.44,359.77 673.66,360.91 673.88,361.40 674.23,361.40 674.49,360.91 674.78,359.77 674.82,353.23 674.71,340.98 674.75,328.73 674.76,322.20 674.51,321.06 674.26,320.57"/>
<polygon points="679.91,320.57 679.56,321.02 679.26,322.08 679.28,328.13 679.18,339.48 679.19,350.83 679.27,356.89 679.58,357.95 679.86,358.40 680.31,358.40 680.69,357.95 680.94,356.89 680.87,350.83 680.90,339.48 681.08,328.13 680.88,322.08 680.66,321.02 680.36,320.57"/>
<polygon points="616.98,295.52 617.44,295.99 618.49,296.20 624.52,296.15 635.82,296.16 647.12,296.16 653.14,296.22 654.20,296.02 654.65,295.57 654.65,295.15 654.20,294.92 653.14,294.74 647.12,294.51 635.82,294.51 624.52,294.47 618.49,294.65 617.44,294.98 616.98,295.10"/>
<polygon points="613.88,301.16 614.38,301.39 615.54,301.67 622.17,301.66 634.60,301.69 647.03,301.72 653.66,301.59 654.82,301.39 655.32,301.25 655.32,300.91 654.82,300.63 653.66,300.40 647.03,300.36 634.60,300.45 622.17,300.31 615.54,300.38 614.38,300.61 613.88,300.82"/>
<polygon points="611.12,308.03 611.66,308.27 612.92,308.41 620.16,308.56 633.72,308.50 647.28,308.47 654.51,308.47 655.77,308.20 656.32,307.84 656.32,307.44 655.77,307.14 654.51,307.03 647.28,306.87 633.72,306.97 620.16,306.96 612.92,307.06 611.66,307.33 611.12,307.63"/>
<polygon points="609.58,314.24 610.15,314.58 611.47,314.71 619.03,314.79 633.20,314.92 647.37,314.86 654.93,314.64 656.25,314.49 656.82,314.26 656.82,313.76 656.25,313.12 654.93,312.97 647.37,312.97 633.20,313.03 619.03,312.80 611.47,312.86 610.15,313.38 609.58,313.74"/>
<polygon points="609.65,370.93 610.21,371.35 611.53,371.58 619.05,371.86 633.15,371.77 647.25,371.92 654.77,371.91 656.09,371.49 656.65,371.05 656.65,370.50 656.09,370.00 654.77,369.78 647.25,369.80 633.15,369.74 619.05,369.74 611.53,369.74 610.21,370.11 609.65,370.38"/>
<polygon points="610.32,376.81 610.85,377.01 612.11,377.31 619.28,377.38 632.73,377.26 646.18,377.43 653.36,377.23 654.61,377.12 655.15,376.80 655.15,376.40 654.61,376.08 653.36,375.85 646.18,375.89 632.73,375.79 619.28,375.78 612.11,375.94 610.85,375.94 610.32,376.41"/>
<polygon points="611.12,383.18 611.64,383.26 612.84,383.75 619.76,383.67 632.72,383.68 645.68,383.61 652.59,383.61 653.80,383.40 654.32,383.08 654.32,382.68 653.80,382.48 652.59,382.21 645.68,382.10 632.72,382.09 619.76,382.10 612.84,382.21 611.64,382.36 611.12,382.78"/>
<polygon points="611.65,388.99 612.11,389.36 613.18,389.59 619.28,389.67 630.73,389.68 642.18,389.62 648.29,389.46 649.36,389.27 649.82,388.87 649.82,388.42 649.36,388.22 648.29,387.96 642.18,387.90 630.73,387.88 619.28,387.99 613.18,387.97 612.11,388.17 611.65,388.54"/>
<polygon points="736.78,100.40 736.39,100.85 736.24,101.89 736.15,107.87 736.16,119.07 736.15,130.27 736.19,136.24 736.41,137.29 736.70,137.73 737.10,137.73 737.51,137.29 737.64,136.24 737.75,130.27 737.63,119.07 737.75,107.87 737.65,101.89 737.45,100.85 737.18,100.40"/>
<polygon points="742.60,97.07 742.31,97.56 742.18,98.72 741.95,105.33 741.98,117.73 741.99,130.13 742.00,136.75 742.38,137.90 742.48,138.40 742.83,138.40 743.19,137.90 743.34,136.75 743.29,130.13 743.38,117.73 743.32,105.33 743.41,98.72 743.22,97.56 742.95,97.07"/>
<polygon points="748.77,94.40 748.52,94.94 748.14,96.20 748.21,103.40 748.21,116.90 748.14,130.40 748.26,137.60 748.39,138.86 748.90,139.40 749.35,139.40 749.51,138.86 749.80,137.60 749.94,130.40 750.01,116.90 750.01,103.40 749.82,96.20 749.57,94.94 749.22,94.40"/>
<polygon points="754.89,92.90 754.71,93.46 754.39,94.78 754.35,102.30 754.32,116.40 754.12,130.50 754.21,138.02 754.57,139.34 754.97,139.90 755.47,139.90 755.78,139.34 756.09,138.02 756.12,130.50 756.32,116.40 756.30,102.30 756.20,94.78 755.85,93.46 755.39,92.90"/>
<polygon points="811.60,92.90 811.26,93.46 810.89,94.77 810.86,102.27 810.87,116.32 811.02,130.37 810.98,137.86 811.36,139.17 811.63,139.73 812.13,139.73 812.51,139.17 812.91,137.86 812.90,130.37 812.87,116.32 812.78,102.27 812.66,94.77 812.45,93.46 812.10,92.90"/>
<polygon points="817.95,93.73 817.61,94.26 817.26,95.50 817.29,102.57 817.23,115.82 817.27,129.07 817.29,136.13 817.64,137.37 817.91,137.90 818.31,137.90 818.53,137.37 818.67,136.13 818.87,129.07 818.76,115.82 818.80,102.57 818.72,95.50 818.61,94.26 818.35,93.73"/>
<polygon points="824.14,94.57 823.92,95.06 823.70,96.20 823.67,102.73 823.65,114.98 823.71,127.23 823.68,133.77 823.90,134.91 824.11,135.40 824.46,135.40 824.72,134.91 825.01,133.77 825.05,127.23 824.95,114.98 824.98,102.73 824.99,96.20 824.74,95.06 824.49,94.57"/>
<polygon points="830.14,94.57 829.80,95.02 829.49,96.08 829.51,102.13 829.41,113.48 829.42,124.83 829.50,130.89 829.82,131.95 830.10,132.40 830.55,132.40 830.92,131.95 831.17,130.89 831.10,124.83 831.13,113.48 831.31,102.13 831.11,96.08 830.89,95.02 830.59,94.57"/>
<polygon points="767.22,69.52 767.67,69.99 768.72,70.20 774.75,70.15 786.05,70.16 797.35,70.16 803.38,70.22 804.43,70.02 804.88,69.57 804.88,69.15 804.43,68.92 803.38,68.74 797.35,68.51 786.05,68.51 774.75,68.47 768.72,68.65 767.67,68.98 767.22,69.10"/>
<polygon points="764.12,75.16 764.61,75.39 765.77,75.67 772.40,75.66 784.83,75.69 797.26,75.72 803.89,75.59 805.05,75.39 805.55,75.25 805.55,74.91 805.05,74.63 803.89,74.40 797.26,74.36 784.83,74.45 772.40,74.31 765.77,74.38 764.61,74.61 764.12,74.82"/>
<polygon points="761.35,82.03 761.89,82.27 763.16,82.41 770.39,82.56 783.95,82.50 797.51,82.47 804.74,82.47 806.01,82.20 806.55,81.84 806.55,81.44 806.01,81.14 804.74,81.03 797.51,80.87 783.95,80.97 770.39,80.96 763.16,81.06 761.89,81.33 761.35,81.63"/>
<polygon points="759.82,88.24 760.38,88.58 761.71,88.71 769.26,88.79 783.43,88.92 797.60,88.86 805.16,88.64 806.48,88.49 807.05,88.26 807.05,87.76 806.48,87.12 805.16,86.97 797.60,86.97 783.43,87.03 769.26,86.80 761.71,86.86 760.38,87.38 759.82,87.74"/>
<polygon points="759.88,144.93 760.45,145.35 761.76,145.58 769.28,145.86 783.38,145.77 797.48,145.92 805.00,145.91 806.32,145.49 806.88,145.05 806.88,144.50 806.32,144.00 805.00,143.78 797.48,143.80 783.38,143.74 769.28,143.74 761.76,143.74 760.45,144.11 759.88,144.38"/>
<polygon points="760.55,150.81 761.09,151.01 762.34,151.31 769.52,151.38 782.97,151.26 796.42,151.43 803.59,151.23 804.85,151.12 805.38,150.80 805.38,150.40 804.85,150.08 803.59,149.85 796.42,149.89 782.97,149.79 769.52,149.78 762.34,149.94 761.09,149.94 760.55,150.41"/>
<polygon points="761.35,157.18 761.87,157.26 763.08,157.75 769.99,157.67 782.95,157.68 795.91,157.61 802.82,157.61 804.03,157.40 804.55,157.08 804.55,156.68 804.03,156.48 802.82,156.21 795.91,156.10 782.95,156.09 769.99,156.10 763.08,156.21 761.87,156.36 761.35,156.78"/>
<polygon points="761.88,162.99 762.34,163.36 763.41,163.59 769.52,163.67 780.97,163.68 792.42,163.62 798.52,163.46 799.59,163.27 800.05,162.87 800.05,162.42 799.59,162.22 798.52,161.96 792.42,161.90 780.97,161.88 769.52,161.99 763.41,161.97 762.34,162.17 761.88,162.54"/>
<polygon points="811.89,213.40 811.51,213.85 811.35,214.89 811.26,220.87 811.28,232.07 811.26,243.27 811.30,249.24 811.53,250.29 811.82,250.73 812.22,250.73 812.63,250.29 812.75,249.24 812.86,243.27 812.75,232.07 812.86,220.87 812.76,214.89 812.57,213.85 812.29,213.40"/>
<polygon points="817.72,210.07 817.43,210.56 817.30,211.72 817.07,218.33 817.09,230.73 817.11,243.13 817.12,249.75 817.50,250.90 817.59,251.40 817.94,251.40 818.30,250.90 818.45,249.75 818.41,243.13 818.49,230.73 818.44,218.33 818.53,211.72 818.34,210.56 818.07,210.07"/>
<polygon points="823.89,207.40 823.64,207.94 823.26,209.20 823.32,216.40 823.33,229.90 823.25,243.40 823.38,250.60 823.51,251.86 824.01,252.40 824.46,252.40 824.63,251.86 824.92,250.60 825.05,243.40 825.13,229.90 825.12,216.40 824.93,209.20 824.69,207.94 824.34,207.40"/>
<polygon points="830.00,205.90 829.83,206.46 829.51,207.78 829.47,215.30 829.43,229.40 829.23,243.50 829.33,251.02 829.69,252.34 830.09,252.90 830.59,252.90 830.89,252.34 831.21,251.02 831.23,243.50 831.43,229.40 831.42,215.30 831.32,207.78 830.97,206.46 830.50,205.90"/>
<polygon points="886.72,205.90 886.38,206.46 886.00,207.77 885.98,215.27 885.99,229.32 886.14,243.37 886.10,250.86 886.48,252.17 886.75,252.73 887.25,252.73 887.62,252.17 888.03,250.86 888.02,243.37 887.98,229.32 887.89,215.27 887.78,207.77 887.57,206.46 887.22,205.90"/>
<polygon points="893.06,206.73 892.73,207.26 892.38,208.50 892.41,215.57 892.35,228.82 892.38,242.07 892.40,249.13 892.76,250.37 893.03,250.90 893.43,250.90 893.64,250.37 893.79,249.13 893.98,242.07 893.88,228.82 893.92,215.57 893.84,208.50 893.72,207.26 893.46,206.73"/>
<polygon points="899.26,207.57 899.04,208.06 898.81,209.20 898.78,215.73 898.76,227.98 898.82,240.23 898.79,246.77 899.01,247.91 899.23,248.40 899.58,248.40 899.84,247.91 900.13,246.77 900.17,240.23 900.06,227.98 900.10,215.73 900.11,209.20 899.86,208.06 899.61,207.57"/>
<polygon points="905.26,207.57 904.91,208.02 904.61,209.08 904.63,215.13 904.53,226.48 904.54,237.83 904.62,243.89 904.93,244.95 905.21,245.40 905.66,245.40 906.04,244.95 906.29,243.89 906.22,237.83 906.25,226.48 906.43,215.13 906.23,209.08 906.01,208.02 905.71,207.57"/>
<polygon points="842.33,182.52 842.79,182.99 843.84,183.20 849.87,183.15 861.17,183.16 872.47,183.16 878.49,183.22 879.55,183.02 880.00,182.57 880.00,182.15 879.55,181.92 878.49,181.74 872.47,181.51 861.17,181.51 849.87,181.47 843.84,181.65 842.79,181.98 842.33,182.10"/>
<polygon points="839.23,188.16 839.73,188.39 840.89,188.67 847.52,188.66 859.95,188.69 872.38,188.72 879.01,188.59 880.17,188.39 880.67,188.25 880.67,187.91 880.17,187.63 879.01,187.40 872.38,187.36 859.95,187.45 847.52,187.31 840.89,187.38 839.73,187.61 839.23,187.82"/>
<polygon points="836.47,195.03 837.01,195.27 838.27,195.41 845.51,195.56 859.07,195.50 872.63,195.47 879.86,195.47 881.12,195.20 881.67,194.84 881.67,194.44 881.12,194.14 879.86,194.03 872.63,193.87 859.07,193.97 845.51,193.96 838.27,194.06 837.01,194.33 836.47,194.63"/>
<polygon points="834.93,201.24 835.50,201.58 836.82,201.71 844.38,201.79 858.55,201.92 872.72,201.86 880.28,201.64 881.60,201.49 882.17,201.26 882.17,200.76 881.60,200.12 880.28,199.97 872.72,199.97 858.55,200.03 844.38,199.80 836.82,199.86 835.50,200.38 834.93,200.74"/>
<polygon points="835.00,257.93 835.56,258.35 836.88,258.58 844.40,258.86 858.50,258.77 872.60,258.92 880.12,258.91 881.44,258.49 882.00,258.05 882.00,257.50 881.44,257.00 880.12,256.78 872.60,256.80 858.50,256.74 844.40,256.74 836.88,256.74 835.56,257.11 835.00,257.38"/>
<polygon points="835.67,263.81 836.20,264.01 837.46,264.31 844.63,264.38 858.08,264.26 871.53,264.43 878.71,264.23 879.96,264.12 880.50,263.80 880.50,263.40 879.96,263.08 878.71,262.85 871.53,262.89 858.08,262.79 844.63,262.78 837.46,262.94 836.20,262.94 835.67,263.41"/>
<polygon points="836.47,270.18 836.99,270.26 838.19,270.75 845.11,270.67 858.07,270.68 871.03,270.61 877.94,270.61 879.15,270.40 879.67,270.08 879.67,269.68 879.15,269.48 877.94,269.21 871.03,269.10 858.07,269.09 845.11,269.10 838.19,269.21 836.99,269.36 836.47,269.78"/>
<polygon points="837.00,275.99 837.46,276.36 838.53,276.59 844.63,276.67 856.08,276.68 867.53,276.62 873.64,276.46 874.71,276.27 875.17,275.87 875.17,275.42 874.71,275.22 873.64,274.96 867.53,274.90 856.08,274.88 844.63,274.99 838.53,274.97 837.46,275.17 837.00,275.54"/>
<polygon points="736.78,326.40 736.39,326.85 736.24,327.89 736.15,333.87 736.16,345.07 736.15,356.27 736.19,362.24 736.41,363.29 736.70,363.73 737.10,363.73 737.51,363.29 737.64,362.24 737.75,356.27 737.63,345.07 737.75,333.87 737.65,327.89 737.45,326.85 737.18,326.40"/>
<polygon points="742.60,323.07 742.31,323.56 742.18,324.72 741.95,331.33 741.98,343.73 741.99,356.13 742.00,362.75 742.38,363.90 742.48,364.40 742.83,364.40 743.19,363.90 743.34,362.75 743.29,356.13 743.38,343.73 743.32,331.33 743.41,324.72 743.22,323.56 742.95,323.07"/>
<polygon points="748.77,320.40 748.52,320.94 748.14,322.20 748.21,329.40 748.21,342.90 748.14,356.40 748.26,363.60 748.39,364.86 748.90,365.40 749.35,365.40 749.51,364.86 749.80,363.60 749.94,356.40 750.01,342.90 750.01,329.40 749.82,322.20 749.57,320.94 749.22,320.40"/>
<polygon points="754.89,318.90 754.71,319.46 754.39,320.78 754.35,328.30 754.32,342.40 754.12,356.50 754.21,364.02 754.57,365.34 754.97,365.90 755.47,365.90 755.78,365.34 756.09,364.02 756.12,356.50 756.32,342.40 756.30,328.30 756.20,320.78 755.85,319.46 755.39,318.90"/>
<polygon points="811.60,318.90 811.26,319.46 810.89,320.77 810.86,328.27 810.87,342.32 811.02,356.37 810.98,363.86 811.36,365.17 811.63,365.73 812.13,365.73 812.51,365.17 812.91,363.86 812.90,356.37 812.87,342.32 812.78,328.27 812.66,320.77 812.45,319.46 812.10,318.90"/>
<polygon points="817.95,319.73 817.61,320.26 817.26,321.50 817.29,328.57 817.23,341.82 817.27,355.07 817.29,362.13 817.64,363.37 817.91,363.90 818.31,363.90 818.53,363.37 818.67,362.13 818.87,355.07 818.76,341.82 818.80,328.57 818.72,321.50 818.61,320.26 818.35,319.73"/>
<polygon points="824.14,320.57 823.92,321.06 823.70,322.20 823.67,328.73 823.65,340.98 823.71,353.23 823.68,359.77 823.90,360.91 824.11,361.40 824.46,361.40 824.72,360.91 825.01,359.77 825.05,353.23 824.95,340.98 824.98,328.73 824.99,322.20 824.74,321.06 824.49,320.57"/>
<polygon points="830.14,320.57 829.80,321.02 829.49,322.08 829.51,328.13 829.41,339.48 829.42,350.83 829.50,356.89 829.82,357.95 830.10,358.40 830.55,358.40 830.92,357.95 831.17,356.89 831.10,350.83 831.13,339.48 831.31,328.13 831.11,322.08 830.89,321.02 830.59,320.57"/>
<polygon points="767.22,295.52 767.67,295.99 768.72,296.20 774.75,296.15 786.05,296.16 797.35,296.16 803.38,296.22 804.43,296.02 804.88,295.57 804.88,295.15 804.43,294.92 803.38,294.74 797.35,294.51 786.05,294.51 774.75,294.47 768.72,294.65 767.67,294.98 767.22,295.10"/>
<polygon points="764.12,301.16 764.61,301.39 765.77,301.67 772.40,301.66 784.83,301.69 797.26,301.72 803.89,301.59 805.05,301.39 805.55,301.25 805.55,300.91 805.05,300.63 803.89,300.40 797.26,300.36 784.83,300.45 772.40,300.31 765.77,300.38 764.61,300.61 764.12,300.82"/>
<polygon points="761.35,308.03 761.89,308.27 763.16,308.41 770.39,308.56 783.95,308.50 797.51,308.47 804.74,308.47 806.01,308.20 806.55,307.84 806.55,307.44 806.01,307.14 804.74,307.03 797.51,306.87 783.95,306.97 770.39,306.96 763.16,307.06 761.89,307.33 761.35,307.63"/>
<polygon points="759.82,314.24 760.38,314.58 761.71,314.71 769.26,314.79 783.43,314.92 797.60,314.86 805.16,314.64 806.48,314.49 807.05,314.26 807.05,313.76 806.48,313.12 805.16,312.97 797.60,312.97 783.43,313.03 769.26,312.80 761.71,312.86 760.38,313.38 759.82,313.74"/>
<polygon points="759.88,370.93 760.45,371.35 761.76,371.58 769.28,371.86 783.38,371.77 797.48,371.92 805.00,371.91 806.32,371.49 806.88,371.05 806.88,370.50 806.32,370.00 805.00,369.78 797.48,369.80 783.38,369.74 769.28,369.74 761.76,369.74 760.45,370.11 759.88,370.38"/>
<polygon points="760.55,376.81 761.09,377.01 762.34,377.31 769.52,377.38 782.97,377.26 796.42,377.43 803.59,377.23 804.85,377.12 805.38,376.80 805.38,376.40 804.85,376.08 803.59,375.85 796.42,375.89 782.97,375.79 769.52,375.78 762.34,375.94 761.09,375.94 760.55,376.41"/>
<polygon points="761.35,383.18 761.87,383.26 763.08,383.75 769.99,383.67 782.95,383.68 795.91,383.61 802.82,383.61 804.03,383.40 804.55,383.08 804.55,382.68 804.03,382.48 802.82,382.21 795.91,382.10 782.95,382.09 769.99,382.10 763.08,382.21 761.87,382.36 761.35,382.78"/>
<polygon points="761.88,388.99 762.34,389.36 763.41,389.59 769.52,389.67 780.97,389.68 792.42,389.62 798.52,389.46 799.59,389.27 800.05,388.87 800.05,388.42 799.59,388.22 798.52,387.96 792.42,387.90 780.97,387.88 769.52,387.99 763.41,387.97 762.34,388.17 761.88,388.54"/>
<polygon points="887.01,100.40 886.62,100.85 886.47,101.89 886.38,107.87 886.40,119.07 886.38,130.27 886.42,136.24 886.65,137.29 886.93,137.73 887.33,137.73 887.74,137.29 887.87,136.24 887.98,130.27 887.86,119.07 887.98,107.87 887.88,101.89 887.69,100.85 887.41,100.40"/>
<polygon points="892.83,97.07 892.55,97.56 892.42,98.72 892.19,105.33 892.21,117.73 892.22,130.13 892.24,136.75 892.61,137.90 892.71,138.40 893.06,138.40 893.42,137.90 893.57,136.75 893.53,130.13 893.61,117.73 893.56,105.33 893.64,98.72 893.46,97.56 893.18,97.07"/>
<polygon points="899.01,94.40 898.75,94.94 898.38,96.20 898.44,103.40 898.44,116.90 898.37,130.40 898.49,137.60 898.62,138.86 899.13,139.40 899.58,139.40 899.74,138.86 900.03,137.60 900.17,130.40 900.24,116.90 900.24,103.40 900.05,96.20 899.80,94.94 899.46,94.40"/>
<polygon points="905.12,92.90 904.94,93.46 904.63,94.78 904.58,102.30 904.55,116.40 904.35,130.50 904.44,138.02 904.81,139.34 905.20,139.90 905.70,139.90 906.01,139.34 906.33,138.02 906.35,130.50 906.55,116.40 906.53,102.30 906.44,94.78 906.09,93.46 905.62,92.90"/>
<polygon points="961.84,92.90 961.49,93.46 961.12,94.77 961.09,102.27 961.11,116.32 961.26,130.37 961.22,137.86 961.59,139.17 961.86,139.73 962.36,139.73 962.74,139.17 963.15,137.86 963.14,130.37 963.10,116.32 963.01,102.27 962.90,94.77 962.69,93.46 962.34,92.90"/>
<polygon points="968.18,93.73 967.85,94.26 967.49,95.50 967.53,102.57 967.46,115.82 967.50,129.07 967.52,136.13 967.87,137.37 968.15,137.90 968.55,137.90 968.76,137.37 968.90,136.13 969.10,129.07 968.99,115.82 969.04,102.57 968.96,95.50 968.84,94.26 968.58,93.73"/>
<polygon points="974.37,94.57 974.16,95.06 973.93,96.20 973.90,102.73 973.88,114.98 973.94,127.23 973.91,133.77 974.13,134.91 974.35,135.40 974.70,135.40 974.96,134.91 975.25,133.77 975.28,127.23 975.18,114.98 975.21,102.73 975.23,96.20 974.97,95.06 974.72,94.57"/>
<polygon points="980.38,94.57 980.03,95.02 979.72,96.08 979.74,102.13 979.65,113.48 979.66,124.83 979.74,130.89 980.05,131.95 980.33,132.40 980.78,132.40 981.15,131.95 981.40,130.89 981.34,124.83 981.36,113.48 981.54,102.13 981.35,96.08 981.13,95.02 980.83,94.57"/>
<polygon points="917.45,69.52 917.90,69.99 918.96,70.20 924.98,70.15 936.28,70.16 947.58,70.16 953.61,70.22 954.66,70.02 955.12,69.57 955.12,69.15 954.66,68.92 953.61,68.74 947.58,68.51 936.28,68.51 924.98,68.47 918.96,68.65 917.90,68.98 917.45,69.10"/>
<polygon points="914.35,75.16 914.85,75.39 916.01,75.67 922.64,75.66 935.07,75.69 947.50,75.72 954.13,75.59 955.29,75.39 955.78,75.25 955.78,74.91 955.29,74.63 954.13,74.40 947.50,74.36 935.07,74.45 922.64,74.31 916.01,74.38 914.85,74.61 914.35,74.82"/>
<polygon points="911.58,82.03 912.13,82.27 913.39,82.41 920.62,82.56 934.18,82.50 947.74,82.47 954.98,82.47 956.24,82.20 956.78,81.84 956.78,81.44 956.24,81.14 954.98,81.03 947.74,80.87 934.18,80.97 920.62,80.96 913.39,81.06 912.13,81.33 911.58,81.63"/>
<polygon points="910.05,88.24 910.62,88.58 911.94,88.71 919.50,88.79 933.67,88.92 947.84,88.86 955.39,88.64 956.72,88.49 957.28,88.26 957.28,87.76 956.72,87.12 955.39,86.97 947.84,86.97 933.67,87.03 919.50,86.80 911.94,86.86 910.62,87.38 910.05,87.74"/>
<polygon points="910.12,144.93 910.68,145.35 912.00,145.58 919.52,145.86 933.62,145.77 947.72,145.92 955.24,145.91 956.55,145.49 957.12,145.05 957.12,144.50 956.55,144.00 955.24,143.78 947.72,143.80 933.62,143.74 919.52,143.74 912.00,143.74 910.68,144.11 910.12,144.38"/>
<polygon points="910.78,150.81 911.32,151.01 912.58,151.31 919.75,151.38 933.20,151.26 946.65,151.43 953.82,151.23 955.08,151.12 955.62,150.80 955.62,150.40 955.08,150.08 953.82,149.85 946.65,149.89 933.20,149.79 919.75,149.78 912.58,149.94 911.32,149.94 910.78,150.41"/>
<polygon points="911.58,157.18 912.10,157.26 913.31,157.75 920.22,157.67 933.18,157.68 946.14,157.61 953.06,157.61 954.26,157.40 954.78,157.08 954.78,156.68 954.26,156.48 953.06,156.21 946.14,156.10 933.18,156.09 920.22,156.10 913.31,156.21 912.10,156.36 911.58,156.78"/>
<polygon points="912.12,162.99 912.57,163.36 913.64,163.59 919.75,163.67 931.20,163.68 942.65,163.62 948.76,163.46 949.83,163.27 950.28,162.87 950.28,162.42 949.83,162.22 948.76,161.96 942.65,161.90 931.20,161.88 919.75,161.99 913.64,161.97 912.57,162.17 912.12,162.54"/>
<polygon points="962.13,213.40 961.74,213.85 961.59,214.89 961.50,220.87 961.51,232.07 961.50,243.27 961.54,249.24 961.76,250.29 962.05,250.73 962.45,250.73 962.86,250.29 962.99,249.24 963.10,243.27 962.98,232.07 963.10,220.87 963.00,214.89 962.80,213.85 962.53,213.40"/>
<polygon points="967.95,210.07 967.66,210.56 967.53,211.72 967.30,218.33 967.33,230.73 967.34,243.13 967.35,249.75 967.73,250.90 967.83,251.40 968.18,251.40 968.54,250.90 968.69,249.75 968.64,243.13 968.73,230.73 968.67,218.33 968.76,211.72 968.57,210.56 968.30,210.07"/>
<polygon points="974.12,207.40 973.87,207.94 973.49,209.20 973.56,216.40 973.56,229.90 973.49,243.40 973.61,250.60 973.74,251.86 974.25,252.40 974.70,252.40 974.86,251.86 975.15,250.60 975.29,243.40 975.36,229.90 975.36,216.40 975.17,209.20 974.92,207.94 974.57,207.40"/>
<polygon points="980.24,205.90 980.06,206.46 979.74,207.78 979.70,215.30 979.67,229.40 979.47,243.50 979.56,251.02 979.92,252.34 980.32,252.90 980.82,252.90 981.13,252.34 981.44,251.02 981.47,243.50 981.67,229.40 981.65,215.30 981.55,207.78 981.20,206.46 980.74,205.90"/>
<polygon points="1036.95,205.90 1036.61,206.46 1036.24,207.77 1036.21,215.27 1036.22,229.32 1036.37,243.37 1036.33,250.86 1036.71,252.17 1036.98,252.73 1037.48,252.73 1037.86,252.17 1038.26,250.86 1038.25,243.37 1038.22,229.32 1038.13,215.27 1038.01,207.77 1037.80,206.46 1037.45,205.90"/>
<polygon points="1043.30,206.73 1042.96,207.26 1042.61,208.50 1042.64,215.57 1042.58,228.82 1042.62,242.07 1042.64,249.13 1042.99,250.37 1043.26,250.90 1043.66,250.90 1043.88,250.37 1044.02,249.13 1044.22,242.07 1044.11,228.82 1044.15,215.57 1044.07,208.50 1043.96,207.26 1043.70,206.73"/>
<polygon points="1049.49,207.57 1049.27,208.06 1049.05,209.20 1049.02,215.73 1049.00,227.98 1049.06,240.23 1049.03,246.77 1049.25,247.91 1049.46,248.40 1049.81,248.40 1050.07,247.91 1050.36,246.77 1050.40,240.23 1050.30,227.98 1050.33,215.73 1050.34,209.20 1050.09,208.06 1049.84,207.57"/>
<polygon points="1055.49,207.57 1055.15,208.02 1054.84,209.08 1054.86,215.13 1054.76,226.48 1054.77,237.83 1054.85,243.89 1055.17,244.95 1055.45,245.40 1055.90,245.40 1056.27,244.95 1056.52,243.89 1056.45,237.83 1056.48,226.48 1056.66,215.13 1056.46,209.08 1056.24,208.02 1055.94,207.57"/>
<polygon points="992.57,182.52 993.02,182.99 994.07,183.20 1000.10,183.15 1011.40,183.16 1022.70,183.16 1028.73,183.22 1029.78,183.02 1030.23,182.57 1030.23,182.15 1029.78,181.92 1028.73,181.74 1022.70,181.51 1011.40,181.51 1000.10,181.47 994.07,181.65 993.02,181.98 992.57,182.10"/>
<polygon points="989.47,188.16 989.96,188.39 991.12,188.67 997.75,188.66 1010.18,188.69 1022.61,188.72 1029.24,188.59 1030.40,188.39 1030.90,188.25 1030.90,187.91 1030.40,187.63 1029.24,187.40 1022.61,187.36 1010.18,187.45 997.75,187.31 991.12,187.38 989.96,187.61 989.47,187.82"/>
<polygon points="986.70,195.03 987.24,195.27 988.51,195.41 995.74,195.56 1009.30,195.50 1022.86,195.47 1030.09,195.47 1031.36,195.20 1031.90,194.84 1031.90,194.44 1031.36,194.14 1030.09,194.03 1022.86,193.87 1009.30,193.97 995.74,193.96 988.51,194.06 987.24,194.33 986.70,194.63"/>
<polygon points="985.17,201.24 985.73,201.58 987.06,201.71 994.61,201.79 1008.78,201.92 1022.95,201.86 1030.51,201.64 1031.83,201.49 1032.40,201.26 1032.40,200.76 1031.83,200.12 1030.51,199.97 1022.95,199.97 1008.78,200.03 994.61,199.80 987.06,199.86 985.73,200.38 985.17,200.74"/>
<polygon points="985.23,257.93 985.80,258.35 987.11,258.58 994.63,258.86 1008.73,258.77 1022.83,258.92 1030.35,258.91 1031.67,258.49 1032.23,258.05 1032.23,257.50 1031.67,257.00 1030.35,256.78 1022.83,256.80 1008.73,256.74 994.63,256.74 987.11,256.74 985.80,257.11 985.23,257.38"/>
<polygon points="985.90,263.81 986.44,264.01 987.69,264.31 994.87,264.38 1008.32,264.26 1021.77,264.43 1028.94,264.23 1030.20,264.12 1030.73,263.80 1030.73,263.40 1030.20,263.08 1028.94,262.85 1021.77,262.89 1008.32,262.79 994.87,262.78 987.69,262.94 986.44,262.94 985.90,263.41"/>
<polygon points="986.70,270.18 987.22,270.26 988.43,270.75 995.34,270.67 1008.30,270.68 1021.26,270.61 1028.17,270.61 1029.38,270.40 1029.90,270.08 1029.90,269.68 1029.38,269.48 1028.17,269.21 1021.26,269.10 1008.30,269.09 995.34,269.10 988.43,269.21 987.22,269.36 986.70,269.78"/>
<polygon points="987.23,275.99 987.69,276.36 988.76,276.59 994.87,276.67 1006.32,276.68 1017.77,276.62 1023.87,276.46 1024.94,276.27 1025.40,275.87 1025.40,275.42 1024.94,275.22 1023.87,274.96 1017.77,274.90 1006.32,274.88 994.87,274.99 988.76,274.97 987.69,275.17 987.23,275.54"/>
<polygon points="887.01,326.40 886.62,326.85 886.47,327.89 886.38,333.87 886.40,345.07 886.38,356.27 886.42,362.24 886.65,363.29 886.93,363.73 887.33,363.73 887.74,363.29 887.87,362.24 887.98,356.27 887.86,345.07 887.98,333.87 887.88,327.89 887.69,326.85 887.41,326.40"/>
<polygon points="892.83,323.07 892.55,323.56 892.42,324.72 892.19,331.33 892.21,343.73 892.22,356.13 892.24,362.75 892.61,363.90 892.71,364.40 893.06,364.40 893.42,363.90 893.57,362.75 893.53,356.13 893.61,343.73 893.56,331.33 893.64,324.72 893.46,323.56 893.18,323.07"/>
<polygon points="899.01,320.40 898.75,320.94 898.38,322.20 898.44,329.40 898.44,342.90 898.37,356.40 898.49,363.60 898.62,364.86 899.13,365.40 899.58,365.40 899.74,364.86 900.03,363.60 900.17,356.40 900.24,342.90 900.24,329.40 900.05,322.20 899.80,320.94 899.46,320.40"/>
<polygon points="905.12,318.90 904.94,319.46 904.63,320.78 904.58,328.30 904.55,342.40 904.35,356.50 904.44,364.02 904.81,365.34 905.20,365.90 905.70,365.90 906.01,365.34 906.33,364.02 906.35,356.50 906.55,342.40 906.53,328.30 906.44,320.78 906.09,319.46 905.62,318.90"/>
<polygon points="961.84,318.90 961.49,319.46 961.12,320.77 961.09,328.27 961.11,342.32 961.26,356.37 961.22,363.86 961.59,365.17 961.86,365.73 962.36,365.73 962.74,365.17 963.15,363.86 963.14,356.37 963.10,342.32 963.01,328.27 962.90,320.77 962.69,319.46 962.34,318.90"/>
<polygon points="968.18,319.73 967.85,320.26 967.49,321.50 967.53,328.57 967.46,341.82 967.50,355.07 967.52,362.13 967.87,363.37 968.15,363.90 968.55,363.90 968.76,363.37 968.90,362.13 969.10,355.07 968.99,341.82 969.04,328.57 968.96,321.50 968.84,320.26 968.58,319.73"/>
<polygon points="974.37,320.57 974.16,321.06 973.93,322.20 973.90,328.73 973.88,340.98 973.94,353.23 973.91,359.77 974.13,360.91 974.35,361.40 974.70,361.40 974.96,360.91 975.25,359.77 975.28,353.23 975.18,340.98 975.21,328.73 975.23,322.20 974.97,321.06 974.72,320.57"/>
<polygon points="980.38,320.57 980.03,321.02 979.72,322.08 979.74,328.13 979.65,339.48 979.66,350.83 979.74,356.89 980.05,357.95 980.33,358.40 980.78,358.40 981.15,357.95 981.40,356.89 981.34,350.83 981.36,339.48 981.54,328.13 981.35,322.08 981.13,321.02 980.83,320.57"/>
<polygon points="917.45,295.52 917.90,295.99 918.96,296.20 924.98,296.15 936.28,296.16 947.58,296.16 953.61,296.22 954.66,296.02 955.12,295.57 955.12,295.15 954.66,294.92 953.61,294.74 947.58,294.51 936.28,294.51 924.98,294.47 918.96,294.65 917.90,294.98 917.45,295.10"/>
<polygon points="914.35,301.16 914.85,301.39 916.01,301.67 922.64,301.66 935.07,301.69 947.50,301.72 954.13,301.59 955.29,301.39 955.78,301.25 955.78,300.91 955.29,300.63 954.13,300.40 947.50,300.36 935.07,300.45 922.64,300.31 916.01,300.38 914.85,300.61 914.35,300.82"/>
<polygon points="911.58,308.03 912.13,308.27 913.39,308.41 920.62,308.56 934.18,308.50 947.74,308.47 954.98,308.47 956.24,308.20 956.78,307.84 956.78,307.44 956.24,307.14 954.98,307.03 947.74,306.87 934.18,306.97 920.62,306.96 913.39,307.06 912.13,307.33 911.58,307.63"/>
<polygon points="910.05,314.24 910.62,314.58 911.94,314.71 919.50,314.79 933.67,314.92 947.84,314.86 955.39,314.64 956.72,314.49 957.28,314.26 957.28,313.76 956.72,313.12 955.39,312.97 947.84,312.97 933.67,313.03 919.50,312.80 911.94,312.86 910.62,313.38 910.05,313.74"/>
<polygon points="910.12,370.93 910.68,371.35 912.00,371.58 919.52,371.86 933.62,371.77 947.72,371.92 955.24,371.91 956.55,371.49 957.12,371.05 957.12,370.50 956.55,370.00 955.24,369.78 947.72,369.80 933.62,369.74 919.52,369.74 912.00,369.74 910.68,370.11 910.12,370.38"/>
<polygon points="910.78,376.81 911.32,377.01 912.58,377.31 919.75,377.38 933.20,377.26 946.65,377.43 953.82,377.23 955.08,377.12 955.62,376.80 955.62,376.40 955.08,376.08 953.82,375.85 946.65,375.89 933.20,375.79 919.75,375.78 912.58,375.94 911.32,375.94 910.78,376.41"/>
<polygon points="911.58,383.18 912.10,383.26 913.31,383.75 920.22,383.67 933.18,383.68 946.14,383.61 953.06,383.61 954.26,383.40 954.78,383.08 954.78,382.68 954.26,382.48 953.06,382.21 946.14,382.10 933.18,382.09 920.22,382.10 913.31,382.21 912.10,382.36 911.58,382.78"/>
<polygon points="912.12,388.99 912.57,389.36 913.64,389.59 919.75,389.67 931.20,389.68 942.65,389.62 948.76,389.46 949.83,389.27 950.28,388.87 950.28,388.42 949.83,388.22 948.76,387.96 942.65,387.90 931.20,387.88 919.75,387.99 913.64,387.97 912.57,388.17 912.12,388.54"/>
</g></g>
<rect x="257.90" y="372.50" width="2.60" height="25.10" fill="#7a7a7a"/>
<rect x="265.83" y="385.50" width="1.30" height="12.10" fill="#111"/>
<rect x="272.46" y="385.50" width="2.60" height="12.10" fill="#7a7a7a"/>
<rect x="280.39" y="385.50" width="1.30" height="12.10" fill="#111"/>
<rect x="287.02" y="385.50" width="2.60" height="12.10" fill="#7a7a7a"/>
<rect x="294.95" y="385.50" width="1.30" height="12.10" fill="#111"/>
<rect x="301.58" y="385.50" width="2.60" height="12.10" fill="#7a7a7a"/>
<rect x="309.51" y="385.50" width="1.30" height="12.10" fill="#111"/>
<rect x="316.13" y="379.00" width="2.60" height="18.60" fill="#7a7a7a"/>
<rect x="324.06" y="385.50" width="1.30" height="12.10" fill="#111"/>
<rect x="330.69" y="385.50" width="2.60" height="12.10" fill="#7a7a7a"/>
<rect x="338.62" y="385.50" width="1.30" height="12.10" fill="#111"/>
<rect x="345.25" y="385.50" width="2.60" height="12.10" fill="#7a7a7a"/>
<rect x="353.18" y="385.50" width="1.30" height="12.10" fill="#111"/>
<rect x="359.81" y="385.50" width="2.60" height="12.10" fill="#7a7a7a"/>
<rect x="367.74" y="385.50" width="1.30" height="12.10" fill="#111"/>
<rect x="374.37" y="372.50" width="2.60" height="25.10" fill="#7a7a7a"/>
<rect x="382.30" y="385.50" width="1.30" height="12.10" fill="#111"/>
<rect x="388.93" y="385.50" width="2.60" height="12.10" fill="#7a7a7a"/>
<rect x="396.86" y="385.50" width="1.30" height="12.10" fill="#111"/>
<rect x="403.49" y="385.50" width="2.60" height="12.10" fill="#7a7a7a"/>
<rect x="411.42" y="385.50" width="1.30" height="12.10" fill="#111"/>
<rect x="418.05" y="385.50" width="2.60" height="12.10" fill="#7a7a7a"/>
<rect x="425.98" y="385.50" width="1.30" height="12.10" fill="#111"/>
<rect x="432.60" y="379.00" width="2.60" height="18.60" fill="#7a7a7a"/>
<rect x="440.53" y="385.50" width="1.30" height="12.10" fill="#111"/>
<rect x="447.16" y="385.50" width="2.60" height="12.10" fill="#7a7a7a"/>
<rect x="455.09" y="385.50" width="1.30" height="12.10" fill="#111"/>
<rect x="461.72" y="385.50" width="2.60" height="12.10" fill="#7a7a7a"/>
<rect x="469.65" y="385.50" width="1.30" height="12.10" fill="#111"/>
<rect x="476.28" y="385.50" width="2.60" height="12.10" fill="#7a7a7a"/>
<rect x="484.21" y="385.50" width="1.30" height="12.10" fill="#111"/>
<rect x="490.84" y="372.50" width="2.60" height="25.10" fill="#7a7a7a"/>
<rect x="498.77" y="385.50" width="1.30" height="12.10" fill="#111"/>
<rect x="505.40" y="385.50" width="2.60" height="12.10" fill="#7a7a7a"/>
<rect x="513.33" y="385.50" width="1.30" height="12.10" fill="#111"/>
<rect x="519.96" y="385.50" width="2.60" height="12.10" fill="#7a7a7a"/>
<rect x="527.89" y="385.50" width="1.30" height="12.10" fill="#111"/>
<rect x="534.52" y="385.50" width="2.60" height="12.10" fill="#7a7a7a"/>
<rect x="542.45" y="385.50" width="1.30" height="12.10" fill="#111"/>
<rect x="549.08" y="379.00" width="2.60" height="18.60" fill="#7a7a7a"/>
<rect x="557.00" y="385.50" width="1.30" height="12.10" fill="#111"/>
<rect x="563.63" y="385.50" width="2.60" height="12.10" fill="#7a7a7a"/>
<rect x="571.56" y="385.50" width="1.30" height="12.10" fill="#111"/>
<rect x="578.19" y="385.50" width="2.60" height="12.10" fill="#7a7a7a"/>
<rect x="586.12" y="385.50" width="1.30" height="12.10" fill="#111"/>
<rect x="592.75" y="385.50" width="2.60" height="12.10" fill="#7a7a7a"/>
<rect x="600.68" y="385.50" width="1.30" height="12.10" fill="#111"/>
<rect x="607.31" y="372.50" width="2.60" height="25.10" fill="#7a7a7a"/>
<rect x="615.24" y="385.50" width="1.30" height="12.10" fill="#111"/>
<rect x="621.87" y="385.50" width="2.60" height="12.10" fill="#7a7a7a"/>
<rect x="629.80" y="385.50" width="1.30" height="12.10" fill="#111"/>
<rect x="636.43" y="385.50" width="2.60" height="12.10" fill="#7a7a7a"/>
<rect x="644.36" y="385.50" width="1.30" height="12.10" fill="#111"/>
<rect x="650.99" y="385.50" width="2.60" height="12.10" fill="#7a7a7a"/>
<rect x="658.92" y="385.50" width="1.30" height="12.10" fill="#111"/>
<rect x="665.55" y="379.00" width="2.60" height="18.60" fill="#7a7a7a"/>
<rect x="673.47" y="385.50" width="1.30" height="12.10" fill="#111"/>
<rect x="680.10" y="385.50" width="2.60" height="12.10" fill="#7a7a7a"/>
<rect x="688.03" y="385.50" width="1.30" height="12.10" fill="#111"/>
<rect x="694.66" y="385.50" width="2.60" height="12.10" fill="#7a7a7a"/>
<rect x="702.59" y="385.50" width="1.30" height="12.10" fill="#111"/>
<rect x="709.22" y="385.50" width="2.60" height="12.10" fill="#7a7a7a"/>
<rect x="717.15" y="385.50" width="1.30" height="12.10" fill="#111"/>
<rect x="723.78" y="372.50" width="2.60" height="25.10" fill="#7a7a7a"/>
<rect x="731.71" y="385.50" width="1.30" height="12.10" fill="#111"/>
<rect x="738.34" y="385.50" width="2.60" height="12.10" fill="#7a7a7a"/>
<rect x="746.27" y="385.50" width="1.30" height="12.10" fill="#111"/>
<rect x="752.90" y="385.50" width="2.60" height="12.10" fill="#7a7a7a"/>
<rect x="760.83" y="385.50" width="1.30" height="12.10" fill="#111"/>
<rect x="767.46" y="385.50" width="2.60" height="12.10" fill="#7a7a7a"/>
<rect x="775.39" y="385.50" width="1.30" height="12.10" fill="#111"/>
<rect x="782.02" y="379.00" width="2.60" height="18.60" fill="#7a7a7a"/>
<rect x="789.94" y="385.50" width="1.30" height="12.10" fill="#111"/>
<rect x="796.57" y="385.50" width="2.60" height="12.10" fill="#7a7a7a"/>
<rect x="804.50" y="385.50" width="1.30" height="12.10" fill="#111"/>
<rect x="811.13" y="385.50" width="2.60" height="12.10" fill="#7a7a7a"/>
<rect x="819.06" y="385.50" width="1.30" height="12.10" fill="#111"/>
<rect x="825.69" y="385.50" width="2.60" height="12.10" fill="#7a7a7a"/>
<rect x="833.62" y="385.50" width="1.30" height="12.10" fill="#111"/>
<rect x="840.25" y="372.50" width="2.60" height="25.10" fill="#7a7a7a"/>
<rect x="848.18" y="385.50" width="1.30" height="12.10" fill="#111"/>
<rect x="854.81" y="385.50" width="2.60" height="12.10" fill="#7a7a7a"/>
<rect x="862.74" y="385.50" width="1.30" height="12.10" fill="#111"/>
<rect x="869.37" y="385.50" width="2.60" height="12.10" fill="#7a7a7a"/>
<rect x="877.30" y="385.50" width="1.30" height="12.10" fill="#111"/>
<rect x="883.93" y="385.50" width="2.60" height="12.10" fill="#7a7a7a"/>
<rect x="891.86" y="385.50" width="1.30" height="12.10" fill="#111"/>
<rect x="898.49" y="379.00" width="2.60" height="18.60" fill="#7a7a7a"/>
<rect x="906.41" y="385.50" width="1.30" height="12.10" fill="#111"/>
<rect x="913.04" y="385.50" width="2.60" height="12.10" fill="#7a7a7a"/>
<rect x="920.97" y="385.50" width="1.30" height="12.10" fill="#111"/>
<rect x="927.60" y="385.50" width="2.60" height="12.10" fill="#7a7a7a"/>
<rect x="935.53" y="385.50" width="1.30" height="12.10" fill="#111"/>
<rect x="942.16" y="385.50" width="2.60" height="12.10" fill="#7a7a7a"/>
<rect x="950.09" y="385.50" width="1.30" height="12.10" fill="#111"/>
<rect x="956.72" y="372.50" width="2.60" height="25.10" fill="#7a7a7a"/>
<rect x="233.50" y="398.15" width="23.70" height="2.10" fill="#3a3a3a"/>
<rect x="247.00" y="405.42" width="10.20" height="2.10" fill="#3a3a3a"/>
<rect x="247.00" y="412.70" width="10.20" height="2.10" fill="#3a3a3a"/>
<rect x="247.00" y="419.97" width="10.20" height="2.10" fill="#3a3a3a"/>
<rect x="247.00" y="427.25" width="10.20" height="2.10" fill="#3a3a3a"/>
<rect x="247.00" y="434.52" width="10.20" height="2.10" fill="#3a3a3a"/>
<rect x="247.00" y="441.80" width="10.20" height="2.10" fill="#3a3a3a"/>
<rect x="247.00" y="449.07" width="10.20" height="2.10" fill="#3a3a3a"/>
<rect x="239.50" y="456.35" width="17.70" height="2.10" fill="#3a3a3a"/>
<rect x="247.00" y="463.62" width="10.20" height="2.10" fill="#3a3a3a"/>
<rect x="247.00" y="470.90" width="10.20" height="2.10" fill="#3a3a3a"/>
<rect x="247.00" y="478.18" width="10.20" height="2.10" fill="#3a3a3a"/>
<rect x="247.00" y="485.45" width="10.20" height="2.10" fill="#3a3a3a"/>
<rect x="247.00" y="492.72" width="10.20" height="2.10" fill="#3a3a3a"/>
<rect x="247.00" y="500.00" width="10.20" height="2.10" fill="#3a3a3a"/>
<rect x="247.00" y="507.27" width="10.20" height="2.10" fill="#3a3a3a"/>
<rect x="233.50" y="514.55" width="23.70" height="2.10" fill="#3a3a3a"/>
<rect x="247.00" y="521.83" width="10.20" height="2.10" fill="#3a3a3a"/>
<rect x="247.00" y="529.10" width="10.20" height="2.10" fill="#3a3a3a"/>
<rect x="247.00" y="536.38" width="10.20" height="2.10" fill="#3a3a3a"/>
<rect x="247.00" y="543.65" width="10.20" height="2.10" fill="#3a3a3a"/>
<rect x="247.00" y="550.93" width="10.20" height="2.10" fill="#3a3a3a"/>
<rect x="247.00" y="558.20" width="10.20" height="2.10" fill="#3a3a3a"/>
<rect x="247.00" y="565.48" width="10.20" height="2.10" fill="#3a3a3a"/>
<rect x="239.50" y="572.75" width="17.70" height="2.10" fill="#3a3a3a"/>
<rect x="247.00" y="580.03" width="10.20" height="2.10" fill="#3a3a3a"/>
<rect x="247.00" y="587.30" width="10.20" height="2.10" fill="#3a3a3a"/>
<rect x="247.00" y="594.58" width="10.20" height="2.10" fill="#3a3a3a"/>
<rect x="247.00" y="601.85" width="10.20" height="2.10" fill="#3a3a3a"/>
<rect x="247.00" y="609.12" width="10.20" height="2.10" fill="#3a3a3a"/>
<rect x="247.00" y="616.40" width="10.20" height="2.10" fill="#3a3a3a"/>
<rect x="247.00" y="623.68" width="10.20" height="2.10" fill="#3a3a3a"/>
<rect x="233.50" y="630.95" width="23.70" height="2.10" fill="#3a3a3a"/>
<clipPath id="c2"><rect x="259.80" y="399.50" width="705.70" height="235.00"/></clipPath>
<rect x="259.80" y="399.50" width="705.70" height="235.00" fill="#fcd2c0"/>
<g clip-path="url(#c2)" fill="#f1ad95" opacity="0.95"><g filter="url(#b2)">
<polygon points="209.96,676.00 209.31,676.90 209.06,678.99 208.91,690.93 208.93,713.33 208.90,735.73 208.97,747.68 209.35,749.77 209.83,750.67 210.49,750.67 211.18,749.77 211.39,747.68 211.57,735.73 211.38,713.33 211.57,690.93 211.41,678.99 211.09,676.90 210.62,676.00"/>
<polygon points="221.61,669.33 221.13,670.33 220.91,672.64 220.53,685.87 220.56,710.67 220.59,735.47 220.61,748.69 221.24,751.01 221.40,752.00 221.98,752.00 222.58,751.01 222.83,748.69 222.76,735.47 222.90,710.67 222.81,685.87 222.96,672.64 222.65,670.33 222.19,669.33"/>
<polygon points="234.01,664.00 233.58,665.08 232.96,667.60 233.06,682.00 233.07,709.00 232.95,736.00 233.15,750.40 233.37,752.92 234.21,754.00 234.96,754.00 235.24,752.92 235.72,750.40 235.95,736.00 236.07,709.00 236.06,682.00 235.74,667.60 235.33,665.08 234.76,664.00"/>
<polygon points="246.25,661.00 245.96,662.13 245.43,664.76 245.35,679.80 245.30,708.00 244.97,736.20 245.12,751.24 245.73,753.87 246.39,755.00 247.22,755.00 247.73,753.87 248.26,751.24 248.30,736.20 248.63,708.00 248.61,679.80 248.45,664.76 247.86,662.13 247.08,661.00"/>
<polygon points="359.67,661.00 359.10,662.12 358.47,664.75 358.43,679.73 358.45,707.83 358.70,735.93 358.63,750.92 359.26,753.54 359.71,754.67 360.54,754.67 361.17,753.54 361.85,750.92 361.84,735.93 361.77,707.83 361.62,679.73 361.43,664.75 361.08,662.12 360.50,661.00"/>
<polygon points="372.29,662.67 371.74,663.73 371.15,666.20 371.21,680.33 371.10,706.83 371.16,733.33 371.19,747.47 371.78,749.94 372.24,751.00 372.90,751.00 373.26,749.94 373.50,747.47 373.83,733.33 373.65,706.83 373.72,680.33 373.59,666.20 373.39,663.73 372.96,662.67"/>
<polygon points="384.70,664.33 384.34,665.31 383.97,667.60 383.92,680.67 383.88,705.17 383.98,729.67 383.93,742.73 384.30,745.02 384.66,746.00 385.24,746.00 385.68,745.02 386.16,742.73 386.22,729.67 386.05,705.17 386.11,680.67 386.13,667.60 385.71,665.31 385.29,664.33"/>
<polygon points="396.71,664.33 396.13,665.24 395.62,667.36 395.66,679.47 395.50,702.17 395.51,724.87 395.65,736.97 396.17,739.09 396.63,740.00 397.38,740.00 398.00,739.09 398.42,736.97 398.31,724.87 398.35,702.17 398.66,679.47 398.33,667.36 397.96,665.24 397.46,664.33"/>
<polygon points="270.80,614.19 271.70,614.98 273.81,615.34 285.87,615.24 308.47,615.27 331.07,615.27 343.12,615.37 345.23,615.03 346.13,614.28 346.13,613.58 345.23,613.20 343.12,612.90 331.07,612.51 308.47,612.52 285.87,612.44 273.81,612.75 271.70,613.30 270.80,613.49"/>
<polygon points="264.60,625.49 265.59,625.87 267.91,626.33 281.17,626.32 306.03,626.38 330.89,626.42 344.15,626.20 346.47,625.88 347.47,625.64 347.47,625.07 346.47,624.60 344.15,624.22 330.89,624.16 306.03,624.30 281.17,624.08 267.91,624.19 265.59,624.57 264.60,624.93"/>
<polygon points="259.07,639.15 260.15,639.57 262.68,639.80 277.15,640.05 304.27,639.95 331.39,639.89 345.85,639.90 348.38,639.44 349.47,638.85 349.47,638.18 348.38,637.68 345.85,637.49 331.39,637.22 304.27,637.40 277.15,637.38 262.68,637.55 260.15,637.99 259.07,638.49"/>
<polygon points="256.00,651.56 257.13,652.13 259.78,652.34 274.89,652.48 303.23,652.69 331.57,652.61 346.69,652.24 349.33,651.98 350.47,651.59 350.47,650.76 349.33,649.70 346.69,649.45 331.57,649.45 303.23,649.55 274.89,649.16 259.78,649.27 257.13,650.13 256.00,650.73"/>
<polygon points="256.13,765.00 257.26,765.70 259.89,766.08 274.93,766.54 303.13,766.40 331.33,766.65 346.37,766.63 349.01,765.93 350.13,765.19 350.13,764.27 349.01,763.45 346.37,763.08 331.33,763.12 303.13,763.01 274.93,763.01 259.89,763.01 257.26,763.63 256.13,764.08"/>
<polygon points="257.47,776.74 258.54,777.07 261.05,777.57 275.40,777.69 302.30,777.48 329.20,777.77 343.55,777.44 346.06,777.25 347.13,776.71 347.13,776.05 346.06,775.52 343.55,775.14 329.20,775.20 302.30,775.04 275.40,775.02 261.05,775.28 258.54,775.29 257.47,776.07"/>
<polygon points="259.07,789.47 260.10,789.60 262.52,790.41 276.35,790.28 302.27,790.30 328.19,790.18 342.01,790.18 344.43,789.84 345.47,789.30 345.47,788.63 344.43,788.31 342.01,787.86 328.19,787.66 302.27,787.65 276.35,787.66 262.52,787.85 260.10,788.10 259.07,788.80"/>
<polygon points="260.13,801.09 261.05,801.71 263.19,802.10 275.40,802.22 298.30,802.24 321.20,802.15 333.41,801.88 335.55,801.56 336.47,800.89 336.47,800.14 335.55,799.82 333.41,799.38 321.20,799.27 298.30,799.24 275.40,799.43 263.19,799.39 261.05,799.72 260.13,800.34"/>
<polygon points="360.19,450.00 359.54,450.90 359.29,452.99 359.14,464.93 359.16,487.33 359.14,509.73 359.20,521.68 359.59,523.77 360.06,524.67 360.73,524.67 361.41,523.77 361.62,521.68 361.80,509.73 361.61,487.33 361.81,464.93 361.64,452.99 361.32,450.90 360.86,450.00"/>
<polygon points="371.84,443.33 371.36,444.33 371.14,446.64 370.76,459.87 370.80,484.67 370.82,509.47 370.85,522.69 371.47,525.01 371.63,526.00 372.22,526.00 372.82,525.01 373.07,522.69 373.00,509.47 373.13,484.67 373.04,459.87 373.19,446.64 372.88,444.33 372.42,443.33"/>
<polygon points="384.24,438.00 383.82,439.08 383.19,441.60 383.30,456.00 383.30,483.00 383.18,510.00 383.38,524.40 383.60,526.92 384.45,528.00 385.20,528.00 385.47,526.92 385.95,524.40 386.18,510.00 386.30,483.00 386.30,456.00 385.98,441.60 385.57,439.08 384.99,438.00"/>
<polygon points="396.48,435.00 396.19,436.13 395.66,438.76 395.59,453.80 395.54,482.00 395.20,510.20 395.36,525.24 395.96,527.87 396.62,529.00 397.46,529.00 397.96,527.87 398.49,525.24 398.53,510.20 398.87,482.00 398.84,453.80 398.68,438.76 398.09,436.13 397.32,435.00"/>
<polygon points="509.90,435.00 509.33,436.12 508.70,438.75 508.66,453.73 508.68,481.83 508.93,509.93 508.87,524.92 509.50,527.54 509.94,528.67 510.78,528.67 511.41,527.54 512.08,524.92 512.07,509.93 512.01,481.83 511.86,453.73 511.67,438.75 511.32,436.12 510.73,435.00"/>
<polygon points="522.53,436.67 521.97,437.73 521.38,440.20 521.44,454.33 521.33,480.83 521.39,507.33 521.43,521.47 522.02,523.94 522.47,525.00 523.14,525.00 523.49,523.94 523.73,521.47 524.06,507.33 523.88,480.83 523.96,454.33 523.82,440.20 523.63,437.73 523.19,436.67"/>
<polygon points="534.94,438.33 534.58,439.31 534.20,441.60 534.15,454.67 534.12,479.17 534.22,503.67 534.17,516.73 534.53,519.02 534.89,520.00 535.48,520.00 535.91,519.02 536.40,516.73 536.45,503.67 536.28,479.17 536.34,454.67 536.36,441.60 535.94,439.31 535.52,438.33"/>
<polygon points="546.94,438.33 546.37,439.24 545.85,441.36 545.89,453.47 545.73,476.17 545.74,498.87 545.88,510.97 546.40,513.09 546.87,514.00 547.62,514.00 548.24,513.09 548.66,510.97 548.55,498.87 548.59,476.17 548.89,453.47 548.56,441.36 548.20,439.24 547.69,438.33"/>
<polygon points="421.03,388.19 421.94,388.98 424.05,389.34 436.10,389.24 458.70,389.27 481.30,389.27 493.35,389.37 495.46,389.03 496.37,388.28 496.37,387.58 495.46,387.20 493.35,386.90 481.30,386.51 458.70,386.52 436.10,386.44 424.05,386.75 421.94,387.30 421.03,387.49"/>
<polygon points="414.83,399.49 415.83,399.87 418.15,400.33 431.41,400.32 456.27,400.38 481.13,400.42 494.39,400.20 496.71,399.88 497.70,399.64 497.70,399.07 496.71,398.60 494.39,398.22 481.13,398.16 456.27,398.30 431.41,398.08 418.15,398.19 415.83,398.57 414.83,398.93"/>
<polygon points="409.30,413.15 410.38,413.57 412.92,413.80 427.38,414.05 454.50,413.95 481.62,413.89 496.08,413.90 498.62,413.44 499.70,412.85 499.70,412.18 498.62,411.68 496.08,411.49 481.62,411.22 454.50,411.40 427.38,411.38 412.92,411.55 410.38,411.99 409.30,412.49"/>
<polygon points="406.23,425.56 407.37,426.13 410.01,426.34 425.13,426.48 453.47,426.69 481.81,426.61 496.92,426.24 499.57,425.98 500.70,425.59 500.70,424.76 499.57,423.70 496.92,423.45 481.81,423.45 453.47,423.55 425.13,423.16 410.01,423.27 407.37,424.13 406.23,424.73"/>
<polygon points="406.37,539.00 407.49,539.70 410.13,540.08 425.17,540.54 453.37,540.40 481.57,540.65 496.61,540.63 499.24,539.93 500.37,539.19 500.37,538.27 499.24,537.45 496.61,537.08 481.57,537.12 453.37,537.01 425.17,537.01 410.13,537.01 407.49,537.63 406.37,538.08"/>
<polygon points="407.70,550.74 408.78,551.07 411.29,551.57 425.63,551.69 452.53,551.48 479.43,551.77 493.78,551.44 496.29,551.25 497.37,550.71 497.37,550.05 496.29,549.52 493.78,549.14 479.43,549.20 452.53,549.04 425.63,549.02 411.29,549.28 408.78,549.29 407.70,550.07"/>
<polygon points="409.30,563.47 410.34,563.60 412.76,564.41 426.58,564.28 452.50,564.30 478.42,564.18 492.24,564.18 494.66,563.84 495.70,563.30 495.70,562.63 494.66,562.31 492.24,561.86 478.42,561.66 452.50,561.65 426.58,561.66 412.76,561.85 410.34,562.10 409.30,562.80"/>
<polygon points="410.37,575.09 411.28,575.71 413.42,576.10 425.63,576.22 448.53,576.24 471.43,576.15 483.65,575.88 485.78,575.56 486.70,574.89 486.70,574.14 485.78,573.82 483.65,573.38 471.43,573.27 448.53,573.24 425.63,573.43 413.42,573.39 411.28,573.72 410.37,574.34"/>
<polygon points="510.42,676.00 509.78,676.90 509.52,678.99 509.37,690.93 509.40,713.33 509.37,735.73 509.44,747.68 509.82,749.77 510.29,750.67 510.96,750.67 511.64,749.77 511.86,747.68 512.04,735.73 511.84,713.33 512.04,690.93 511.87,678.99 511.55,676.90 511.09,676.00"/>
<polygon points="522.07,669.33 521.59,670.33 521.38,672.64 521.00,685.87 521.03,710.67 521.06,735.47 521.08,748.69 521.71,751.01 521.87,752.00 522.45,752.00 523.05,751.01 523.30,748.69 523.23,735.47 523.36,710.67 523.28,685.87 523.42,672.64 523.11,670.33 522.66,669.33"/>
<polygon points="534.47,664.00 534.05,665.08 533.42,667.60 533.53,682.00 533.54,709.00 533.41,736.00 533.62,750.40 533.83,752.92 534.68,754.00 535.43,754.00 535.70,752.92 536.19,750.40 536.41,736.00 536.54,709.00 536.53,682.00 536.21,667.60 535.80,665.08 535.22,664.00"/>
<polygon points="546.72,661.00 546.42,662.13 545.89,664.76 545.82,679.80 545.77,708.00 545.43,736.20 545.59,751.24 546.19,753.87 546.86,755.00 547.69,755.00 548.20,753.87 548.73,751.24 548.77,736.20 549.10,708.00 549.07,679.80 548.91,664.76 548.33,662.13 547.55,661.00"/>
<polygon points="660.13,661.00 659.56,662.12 658.94,664.75 658.90,679.73 658.91,707.83 659.17,735.93 659.10,750.92 659.73,753.54 660.18,754.67 661.01,754.67 661.64,753.54 662.32,750.92 662.30,735.93 662.24,707.83 662.09,679.73 661.90,664.75 661.55,662.12 660.97,661.00"/>
<polygon points="672.76,662.67 672.21,663.73 671.62,666.20 671.67,680.33 671.56,706.83 671.63,733.33 671.66,747.47 672.25,749.94 672.70,751.00 673.37,751.00 673.73,749.94 673.96,747.47 674.29,733.33 674.12,706.83 674.19,680.33 674.06,666.20 673.86,663.73 673.43,662.67"/>
<polygon points="685.17,664.33 684.81,665.31 684.43,667.60 684.38,680.67 684.35,705.17 684.45,729.67 684.40,742.73 684.77,745.02 685.13,746.00 685.71,746.00 686.15,745.02 686.63,742.73 686.69,729.67 686.51,705.17 686.57,680.67 686.60,667.60 686.17,665.31 685.75,664.33"/>
<polygon points="697.18,664.33 696.60,665.24 696.09,667.36 696.12,679.47 695.96,702.17 695.98,724.87 696.11,736.97 696.63,739.09 697.10,740.00 697.85,740.00 698.47,739.09 698.89,736.97 698.78,724.87 698.82,702.17 699.12,679.47 698.79,667.36 698.43,665.24 697.93,664.33"/>
<polygon points="571.27,614.19 572.17,614.98 574.28,615.34 586.33,615.24 608.93,615.27 631.53,615.27 643.59,615.37 645.70,615.03 646.60,614.28 646.60,613.58 645.70,613.20 643.59,612.90 631.53,612.51 608.93,612.52 586.33,612.44 574.28,612.75 572.17,613.30 571.27,613.49"/>
<polygon points="565.07,625.49 566.06,625.87 568.38,626.33 581.64,626.32 606.50,626.38 631.36,626.42 644.62,626.20 646.94,625.88 647.93,625.64 647.93,625.07 646.94,624.60 644.62,624.22 631.36,624.16 606.50,624.30 581.64,624.08 568.38,624.19 566.06,624.57 565.07,624.93"/>
<polygon points="559.53,639.15 560.62,639.57 563.15,639.80 577.61,640.05 604.73,639.95 631.85,639.89 646.32,639.90 648.85,639.44 649.93,638.85 649.93,638.18 648.85,637.68 646.32,637.49 631.85,637.22 604.73,637.40 577.61,637.38 563.15,637.55 560.62,637.99 559.53,638.49"/>
<polygon points="556.47,651.56 557.60,652.13 560.25,652.34 575.36,652.48 603.70,652.69 632.04,652.61 647.15,652.24 649.80,651.98 650.93,651.59 650.93,650.76 649.80,649.70 647.15,649.45 632.04,649.45 603.70,649.55 575.36,649.16 560.25,649.27 557.60,650.13 556.47,650.73"/>
<polygon points="556.60,765.00 557.73,765.70 560.36,766.08 575.40,766.54 603.60,766.40 631.80,766.65 646.84,766.63 649.47,765.93 650.60,765.19 650.60,764.27 649.47,763.45 646.84,763.08 631.80,763.12 603.60,763.01 575.40,763.01 560.36,763.01 557.73,763.63 556.60,764.08"/>
<polygon points="557.93,776.74 559.01,777.07 561.52,777.57 575.87,777.69 602.77,777.48 629.67,777.77 644.01,777.44 646.52,777.25 647.60,776.71 647.60,776.05 646.52,775.52 644.01,775.14 629.67,775.20 602.77,775.04 575.87,775.02 561.52,775.28 559.01,775.29 557.93,776.07"/>
<polygon points="559.53,789.47 560.57,789.60 562.99,790.41 576.81,790.28 602.73,790.30 628.65,790.18 642.48,790.18 644.90,789.84 645.93,789.30 645.93,788.63 644.90,788.31 642.48,787.86 628.65,787.66 602.73,787.65 576.81,787.66 562.99,787.85 560.57,788.10 559.53,788.80"/>
<polygon points="560.60,801.09 561.52,801.71 563.65,802.10 575.87,802.22 598.77,802.24 621.67,802.15 633.88,801.88 636.02,801.56 636.93,800.89 636.93,800.14 636.02,799.82 633.88,799.38 621.67,799.27 598.77,799.24 575.87,799.43 563.65,799.39 561.52,799.72 560.60,800.34"/>
<polygon points="660.66,450.00 660.01,450.90 659.76,452.99 659.61,464.93 659.63,487.33 659.60,509.73 659.67,521.68 660.05,523.77 660.53,524.67 661.19,524.67 661.88,523.77 662.09,521.68 662.27,509.73 662.08,487.33 662.27,464.93 662.11,452.99 661.79,450.90 661.32,450.00"/>
<polygon points="672.31,443.33 671.83,444.33 671.61,446.64 671.23,459.87 671.26,484.67 671.29,509.47 671.31,522.69 671.94,525.01 672.10,526.00 672.68,526.00 673.28,525.01 673.53,522.69 673.46,509.47 673.60,484.67 673.51,459.87 673.66,446.64 673.35,444.33 672.89,443.33"/>
<polygon points="684.71,438.00 684.28,439.08 683.66,441.60 683.76,456.00 683.77,483.00 683.65,510.00 683.85,524.40 684.07,526.92 684.91,528.00 685.66,528.00 685.94,526.92 686.42,524.40 686.65,510.00 686.77,483.00 686.76,456.00 686.44,441.60 686.03,439.08 685.46,438.00"/>
<polygon points="696.95,435.00 696.66,436.13 696.13,438.76 696.05,453.80 696.00,482.00 695.67,510.20 695.82,525.24 696.43,527.87 697.09,529.00 697.92,529.00 698.43,527.87 698.96,525.24 699.00,510.20 699.33,482.00 699.31,453.80 699.15,438.76 698.56,436.13 697.78,435.00"/>
<polygon points="810.37,435.00 809.80,436.12 809.17,438.75 809.13,453.73 809.15,481.83 809.40,509.93 809.33,524.92 809.96,527.54 810.41,528.67 811.24,528.67 811.87,527.54 812.55,524.92 812.54,509.93 812.47,481.83 812.32,453.73 812.13,438.75 811.78,436.12 811.20,435.00"/>
<polygon points="822.99,436.67 822.44,437.73 821.85,440.20 821.91,454.33 821.80,480.83 821.86,507.33 821.89,521.47 822.48,523.94 822.94,525.00 823.60,525.00 823.96,523.94 824.20,521.47 824.53,507.33 824.35,480.83 824.42,454.33 824.29,440.20 824.09,437.73 823.66,436.67"/>
<polygon points="835.40,438.33 835.04,439.31 834.67,441.60 834.62,454.67 834.58,479.17 834.68,503.67 834.63,516.73 835.00,519.02 835.36,520.00 835.94,520.00 836.38,519.02 836.86,516.73 836.92,503.67 836.75,479.17 836.81,454.67 836.83,441.60 836.41,439.31 835.99,438.33"/>
<polygon points="847.41,438.33 846.83,439.24 846.32,441.36 846.36,453.47 846.20,476.17 846.21,498.87 846.35,510.97 846.87,513.09 847.33,514.00 848.08,514.00 848.70,513.09 849.12,510.97 849.01,498.87 849.05,476.17 849.36,453.47 849.03,441.36 848.66,439.24 848.16,438.33"/>
<polygon points="721.50,388.19 722.40,388.98 724.51,389.34 736.57,389.24 759.17,389.27 781.77,389.27 793.82,389.37 795.93,389.03 796.83,388.28 796.83,387.58 795.93,387.20 793.82,386.90 781.77,386.51 759.17,386.52 736.57,386.44 724.51,386.75 722.40,387.30 721.50,387.49"/>
<polygon points="715.30,399.49 716.29,399.87 718.61,400.33 731.87,400.32 756.73,400.38 781.59,400.42 794.85,400.20 797.17,399.88 798.17,399.64 798.17,399.07 797.17,398.60 794.85,398.22 781.59,398.16 756.73,398.30 731.87,398.08 718.61,398.19 716.29,398.57 715.30,398.93"/>
<polygon points="709.77,413.15 710.85,413.57 713.38,413.80 727.85,414.05 754.97,413.95 782.09,413.89 796.55,413.90 799.08,413.44 800.17,412.85 800.17,412.18 799.08,411.68 796.55,411.49 782.09,411.22 754.97,411.40 727.85,411.38 713.38,411.55 710.85,411.99 709.77,412.49"/>
<polygon points="706.70,425.56 707.83,426.13 710.48,426.34 725.59,426.48 753.93,426.69 782.27,426.61 797.39,426.24 800.03,425.98 801.17,425.59 801.17,424.76 800.03,423.70 797.39,423.45 782.27,423.45 753.93,423.55 725.59,423.16 710.48,423.27 707.83,424.13 706.70,424.73"/>
<polygon points="706.83,539.00 707.96,539.70 710.59,540.08 725.63,540.54 753.83,540.40 782.03,540.65 797.07,540.63 799.71,539.93 800.83,539.19 800.83,538.27 799.71,537.45 797.07,537.08 782.03,537.12 753.83,537.01 725.63,537.01 710.59,537.01 707.96,537.63 706.83,538.08"/>
<polygon points="708.17,550.74 709.24,551.07 711.75,551.57 726.10,551.69 753.00,551.48 779.90,551.77 794.25,551.44 796.76,551.25 797.83,550.71 797.83,550.05 796.76,549.52 794.25,549.14 779.90,549.20 753.00,549.04 726.10,549.02 711.75,549.28 709.24,549.29 708.17,550.07"/>
<polygon points="709.77,563.47 710.80,563.60 713.22,564.41 727.05,564.28 752.97,564.30 778.89,564.18 792.71,564.18 795.13,563.84 796.17,563.30 796.17,562.63 795.13,562.31 792.71,561.86 778.89,561.66 752.97,561.65 727.05,561.66 713.22,561.85 710.80,562.10 709.77,562.80"/>
<polygon points="710.83,575.09 711.75,575.71 713.89,576.10 726.10,576.22 749.00,576.24 771.90,576.15 784.11,575.88 786.25,575.56 787.17,574.89 787.17,574.14 786.25,573.82 784.11,573.38 771.90,573.27 749.00,573.24 726.10,573.43 713.89,573.39 711.75,573.72 710.83,574.34"/>
<polygon points="810.89,676.00 810.24,676.90 809.99,678.99 809.84,690.93 809.86,713.33 809.84,735.73 809.90,747.68 810.29,749.77 810.76,750.67 811.43,750.67 812.11,749.77 812.32,747.68 812.50,735.73 812.31,713.33 812.51,690.93 812.34,678.99 812.02,676.90 811.56,676.00"/>
<polygon points="822.54,669.33 822.06,670.33 821.84,672.64 821.46,685.87 821.50,710.67 821.52,735.47 821.55,748.69 822.17,751.01 822.33,752.00 822.92,752.00 823.52,751.01 823.77,748.69 823.70,735.47 823.83,710.67 823.74,685.87 823.89,672.64 823.58,670.33 823.12,669.33"/>
<polygon points="834.94,664.00 834.52,665.08 833.89,667.60 834.00,682.00 834.00,709.00 833.88,736.00 834.08,750.40 834.30,752.92 835.15,754.00 835.90,754.00 836.17,752.92 836.65,750.40 836.88,736.00 837.00,709.00 837.00,682.00 836.68,667.60 836.27,665.08 835.69,664.00"/>
<polygon points="847.18,661.00 846.89,662.13 846.36,664.76 846.29,679.80 846.24,708.00 845.90,736.20 846.06,751.24 846.66,753.87 847.32,755.00 848.16,755.00 848.66,753.87 849.19,751.24 849.23,736.20 849.57,708.00 849.54,679.80 849.38,664.76 848.79,662.13 848.02,661.00"/>
<polygon points="960.60,661.00 960.03,662.12 959.40,664.75 959.36,679.73 959.38,707.83 959.63,735.93 959.57,750.92 960.20,753.54 960.64,754.67 961.48,754.67 962.11,753.54 962.78,750.92 962.77,735.93 962.71,707.83 962.56,679.73 962.37,664.75 962.02,662.12 961.43,661.00"/>
<polygon points="973.23,662.67 972.67,663.73 972.08,666.20 972.14,680.33 972.03,706.83 972.09,733.33 972.13,747.47 972.72,749.94 973.17,751.00 973.84,751.00 974.19,749.94 974.43,747.47 974.76,733.33 974.58,706.83 974.66,680.33 974.52,666.20 974.33,663.73 973.89,662.67"/>
<polygon points="985.64,664.33 985.28,665.31 984.90,667.60 984.85,680.67 984.82,705.17 984.92,729.67 984.87,742.73 985.23,745.02 985.59,746.00 986.18,746.00 986.61,745.02 987.10,742.73 987.15,729.67 986.98,705.17 987.04,680.67 987.06,667.60 986.64,665.31 986.22,664.33"/>
<polygon points="997.64,664.33 997.07,665.24 996.55,667.36 996.59,679.47 996.43,702.17 996.44,724.87 996.58,736.97 997.10,739.09 997.57,740.00 998.32,740.00 998.94,739.09 999.36,736.97 999.25,724.87 999.29,702.17 999.59,679.47 999.26,667.36 998.90,665.24 998.39,664.33"/>
<polygon points="871.73,614.19 872.64,614.98 874.75,615.34 886.80,615.24 909.40,615.27 932.00,615.27 944.05,615.37 946.16,615.03 947.07,614.28 947.07,613.58 946.16,613.20 944.05,612.90 932.00,612.51 909.40,612.52 886.80,612.44 874.75,612.75 872.64,613.30 871.73,613.49"/>
<polygon points="865.53,625.49 866.53,625.87 868.85,626.33 882.11,626.32 906.97,626.38 931.83,626.42 945.09,626.20 947.41,625.88 948.40,625.64 948.40,625.07 947.41,624.60 945.09,624.22 931.83,624.16 906.97,624.30 882.11,624.08 868.85,624.19 866.53,624.57 865.53,624.93"/>
<polygon points="860.00,639.15 861.08,639.57 863.62,639.80 878.08,640.05 905.20,639.95 932.32,639.89 946.78,639.90 949.32,639.44 950.40,638.85 950.40,638.18 949.32,637.68 946.78,637.49 932.32,637.22 905.20,637.40 878.08,637.38 863.62,637.55 861.08,637.99 860.00,638.49"/>
<polygon points="856.93,651.56 858.07,652.13 860.71,652.34 875.83,652.48 904.17,652.69 932.51,652.61 947.62,652.24 950.27,651.98 951.40,651.59 951.40,650.76 950.27,649.70 947.62,649.45 932.51,649.45 904.17,649.55 875.83,649.16 860.71,649.27 858.07,650.13 856.93,650.73"/>
<polygon points="857.07,765.00 858.19,765.70 860.83,766.08 875.87,766.54 904.07,766.40 932.27,766.65 947.31,766.63 949.94,765.93 951.07,765.19 951.07,764.27 949.94,763.45 947.31,763.08 932.27,763.12 904.07,763.01 875.87,763.01 860.83,763.01 858.19,763.63 857.07,764.08"/>
<polygon points="858.40,776.74 859.48,777.07 861.99,777.57 876.33,777.69 903.23,777.48 930.13,777.77 944.48,777.44 946.99,777.25 948.07,776.71 948.07,776.05 946.99,775.52 944.48,775.14 930.13,775.20 903.23,775.04 876.33,775.02 861.99,775.28 859.48,775.29 858.40,776.07"/>
<polygon points="860.00,789.47 861.04,789.60 863.46,790.41 877.28,790.28 903.20,790.30 929.12,790.18 942.94,790.18 945.36,789.84 946.40,789.30 946.40,788.63 945.36,788.31 942.94,787.86 929.12,787.66 903.20,787.65 877.28,787.66 863.46,787.85 861.04,788.10 860.00,788.80"/>
<polygon points="861.07,801.09 861.98,801.71 864.12,802.10 876.33,802.22 899.23,802.24 922.13,802.15 934.35,801.88 936.48,801.56 937.40,800.89 937.40,800.14 936.48,799.82 934.35,799.38 922.13,799.27 899.23,799.24 876.33,799.43 864.12,799.39 861.98,799.72 861.07,800.34"/>
<polygon points="961.12,450.00 960.48,450.90 960.22,452.99 960.07,464.93 960.10,487.33 960.07,509.73 960.14,521.68 960.52,523.77 960.99,524.67 961.66,524.67 962.34,523.77 962.56,521.68 962.74,509.73 962.54,487.33 962.74,464.93 962.57,452.99 962.25,450.90 961.79,450.00"/>
<polygon points="972.77,443.33 972.29,444.33 972.08,446.64 971.70,459.87 971.73,484.67 971.76,509.47 971.78,522.69 972.41,525.01 972.57,526.00 973.15,526.00 973.75,525.01 974.00,522.69 973.93,509.47 974.06,484.67 973.98,459.87 974.12,446.64 973.81,444.33 973.36,443.33"/>
<polygon points="985.17,438.00 984.75,439.08 984.12,441.60 984.23,456.00 984.24,483.00 984.11,510.00 984.32,524.40 984.53,526.92 985.38,528.00 986.13,528.00 986.40,526.92 986.89,524.40 987.11,510.00 987.24,483.00 987.23,456.00 986.91,441.60 986.50,439.08 985.92,438.00"/>
<polygon points="997.42,435.00 997.12,436.13 996.59,438.76 996.52,453.80 996.47,482.00 996.13,510.20 996.29,525.24 996.89,527.87 997.56,529.00 998.39,529.00 998.90,527.87 999.43,525.24 999.47,510.20 999.80,482.00 999.77,453.80 999.61,438.76 999.03,436.13 998.25,435.00"/>
<polygon points="1110.83,435.00 1110.26,436.12 1109.64,438.75 1109.60,453.73 1109.61,481.83 1109.87,509.93 1109.80,524.92 1110.43,527.54 1110.88,528.67 1111.71,528.67 1112.34,527.54 1113.02,524.92 1113.00,509.93 1112.94,481.83 1112.79,453.73 1112.60,438.75 1112.25,436.12 1111.67,435.00"/>
<polygon points="1123.46,436.67 1122.91,437.73 1122.32,440.20 1122.37,454.33 1122.26,480.83 1122.33,507.33 1122.36,521.47 1122.95,523.94 1123.40,525.00 1124.07,525.00 1124.43,523.94 1124.66,521.47 1124.99,507.33 1124.82,480.83 1124.89,454.33 1124.76,440.20 1124.56,437.73 1124.13,436.67"/>
<polygon points="1135.87,438.33 1135.51,439.31 1135.13,441.60 1135.08,454.67 1135.05,479.17 1135.15,503.67 1135.10,516.73 1135.47,519.02 1135.83,520.00 1136.41,520.00 1136.85,519.02 1137.33,516.73 1137.39,503.67 1137.21,479.17 1137.27,454.67 1137.30,441.60 1136.87,439.31 1136.45,438.33"/>
<polygon points="1147.88,438.33 1147.30,439.24 1146.79,441.36 1146.82,453.47 1146.66,476.17 1146.68,498.87 1146.81,510.97 1147.33,513.09 1147.80,514.00 1148.55,514.00 1149.17,513.09 1149.59,510.97 1149.48,498.87 1149.52,476.17 1149.82,453.47 1149.49,441.36 1149.13,439.24 1148.63,438.33"/>
<polygon points="1021.97,388.19 1022.87,388.98 1024.98,389.34 1037.03,389.24 1059.63,389.27 1082.23,389.27 1094.29,389.37 1096.40,389.03 1097.30,388.28 1097.30,387.58 1096.40,387.20 1094.29,386.90 1082.23,386.51 1059.63,386.52 1037.03,386.44 1024.98,386.75 1022.87,387.30 1021.97,387.49"/>
<polygon points="1015.77,399.49 1016.76,399.87 1019.08,400.33 1032.34,400.32 1057.20,400.38 1082.06,400.42 1095.32,400.20 1097.64,399.88 1098.63,399.64 1098.63,399.07 1097.64,398.60 1095.32,398.22 1082.06,398.16 1057.20,398.30 1032.34,398.08 1019.08,398.19 1016.76,398.57 1015.77,398.93"/>
<polygon points="1010.23,413.15 1011.32,413.57 1013.85,413.80 1028.31,414.05 1055.43,413.95 1082.55,413.89 1097.02,413.90 1099.55,413.44 1100.63,412.85 1100.63,412.18 1099.55,411.68 1097.02,411.49 1082.55,411.22 1055.43,411.40 1028.31,411.38 1013.85,411.55 1011.32,411.99 1010.23,412.49"/>
<polygon points="1007.17,425.56 1008.30,426.13 1010.95,426.34 1026.06,426.48 1054.40,426.69 1082.74,426.61 1097.85,426.24 1100.50,425.98 1101.63,425.59 1101.63,424.76 1100.50,423.70 1097.85,423.45 1082.74,423.45 1054.40,423.55 1026.06,423.16 1010.95,423.27 1008.30,424.13 1007.17,424.73"/>
<polygon points="1007.30,539.00 1008.43,539.70 1011.06,540.08 1026.10,540.54 1054.30,540.40 1082.50,540.65 1097.54,540.63 1100.17,539.93 1101.30,539.19 1101.30,538.27 1100.17,537.45 1097.54,537.08 1082.50,537.12 1054.30,537.01 1026.10,537.01 1011.06,537.01 1008.43,537.63 1007.30,538.08"/>
<polygon points="1008.63,550.74 1009.71,551.07 1012.22,551.57 1026.57,551.69 1053.47,551.48 1080.37,551.77 1094.71,551.44 1097.22,551.25 1098.30,550.71 1098.30,550.05 1097.22,549.52 1094.71,549.14 1080.37,549.20 1053.47,549.04 1026.57,549.02 1012.22,549.28 1009.71,549.29 1008.63,550.07"/>
<polygon points="1010.23,563.47 1011.27,563.60 1013.69,564.41 1027.51,564.28 1053.43,564.30 1079.35,564.18 1093.18,564.18 1095.60,563.84 1096.63,563.30 1096.63,562.63 1095.60,562.31 1093.18,561.86 1079.35,561.66 1053.43,561.65 1027.51,561.66 1013.69,561.85 1011.27,562.10 1010.23,562.80"/>
<polygon points="1011.30,575.09 1012.22,575.71 1014.35,576.10 1026.57,576.22 1049.47,576.24 1072.37,576.15 1084.58,575.88 1086.72,575.56 1087.63,574.89 1087.63,574.14 1086.72,573.82 1084.58,573.38 1072.37,573.27 1049.47,573.24 1026.57,573.43 1014.35,573.39 1012.22,573.72 1011.30,574.34"/>
</g></g>
<rect x="259.15" y="700.20" width="1.30" height="25.40" fill="#111"/>
<rect x="265.80" y="713.50" width="2.50" height="12.10" fill="#7a7a7a"/>
<rect x="273.65" y="713.50" width="1.30" height="12.10" fill="#111"/>
<rect x="280.31" y="713.50" width="2.50" height="12.10" fill="#7a7a7a"/>
<rect x="288.16" y="713.50" width="1.30" height="12.10" fill="#111"/>
<rect x="294.81" y="713.50" width="2.50" height="12.10" fill="#7a7a7a"/>
<rect x="302.66" y="713.50" width="1.30" height="12.10" fill="#111"/>
<rect x="309.31" y="713.50" width="2.50" height="12.10" fill="#7a7a7a"/>
<rect x="317.17" y="707.00" width="1.30" height="18.60" fill="#111"/>
<rect x="323.82" y="713.50" width="2.50" height="12.10" fill="#7a7a7a"/>
<rect x="331.67" y="713.50" width="1.30" height="12.10" fill="#111"/>
<rect x="338.32" y="713.50" width="2.50" height="12.10" fill="#7a7a7a"/>
<rect x="346.17" y="713.50" width="1.30" height="12.10" fill="#111"/>
<rect x="352.82" y="713.50" width="2.50" height="12.10" fill="#7a7a7a"/>
<rect x="360.68" y="713.50" width="1.30" height="12.10" fill="#111"/>
<rect x="367.33" y="713.50" width="2.50" height="12.10" fill="#7a7a7a"/>
<rect x="375.18" y="700.20" width="1.30" height="25.40" fill="#111"/>
<rect x="381.83" y="713.50" width="2.50" height="12.10" fill="#7a7a7a"/>
<rect x="389.68" y="713.50" width="1.30" height="12.10" fill="#111"/>
<rect x="396.34" y="713.50" width="2.50" height="12.10" fill="#7a7a7a"/>
<rect x="404.19" y="713.50" width="1.30" height="12.10" fill="#111"/>
<rect x="410.84" y="713.50" width="2.50" height="12.10" fill="#7a7a7a"/>
<rect x="418.69" y="713.50" width="1.30" height="12.10" fill="#111"/>
<rect x="425.34" y="713.50" width="2.50" height="12.10" fill="#7a7a7a"/>
<rect x="433.20" y="707.00" width="1.30" height="18.60" fill="#111"/>
<rect x="439.85" y="713.50" width="2.50" height="12.10" fill="#7a7a7a"/>
<rect x="447.70" y="713.50" width="1.30" height="12.10" fill="#111"/>
<rect x="454.35" y="713.50" width="2.50" height="12.10" fill="#7a7a7a"/>
<rect x="462.20" y="713.50" width="1.30" height="12.10" fill="#111"/>
<rect x="468.85" y="713.50" width="2.50" height="12.10" fill="#7a7a7a"/>
<rect x="476.71" y="713.50" width="1.30" height="12.10" fill="#111"/>
<rect x="483.36" y="713.50" width="2.50" height="12.10" fill="#7a7a7a"/>
<rect x="491.21" y="700.20" width="1.30" height="25.40" fill="#111"/>
<rect x="497.86" y="713.50" width="2.50" height="12.10" fill="#7a7a7a"/>
<rect x="505.71" y="713.50" width="1.30" height="12.10" fill="#111"/>
<rect x="512.37" y="713.50" width="2.50" height="12.10" fill="#7a7a7a"/>
<rect x="520.22" y="713.50" width="1.30" height="12.10" fill="#111"/>
<rect x="526.87" y="713.50" width="2.50" height="12.10" fill="#7a7a7a"/>
<rect x="534.72" y="713.50" width="1.30" height="12.10" fill="#111"/>
<rect x="541.37" y="713.50" width="2.50" height="12.10" fill="#7a7a7a"/>
<rect x="549.23" y="707.00" width="1.30" height="18.60" fill="#111"/>
<rect x="555.88" y="713.50" width="2.50" height="12.10" fill="#7a7a7a"/>
<rect x="563.73" y="713.50" width="1.30" height="12.10" fill="#111"/>
<rect x="570.38" y="713.50" width="2.50" height="12.10" fill="#7a7a7a"/>
<rect x="578.23" y="713.50" width="1.30" height="12.10" fill="#111"/>
<rect x="584.88" y="713.50" width="2.50" height="12.10" fill="#7a7a7a"/>
<rect x="592.74" y="713.50" width="1.30" height="12.10" fill="#111"/>
<rect x="599.39" y="713.50" width="2.50" height="12.10" fill="#7a7a7a"/>
<rect x="607.24" y="700.20" width="1.30" height="25.40" fill="#111"/>
<rect x="613.89" y="713.50" width="2.50" height="12.10" fill="#7a7a7a"/>
<rect x="621.74" y="713.50" width="1.30" height="12.10" fill="#111"/>
<rect x="628.40" y="713.50" width="2.50" height="12.10" fill="#7a7a7a"/>
<rect x="636.25" y="713.50" width="1.30" height="12.10" fill="#111"/>
<rect x="642.90" y="713.50" width="2.50" height="12.10" fill="#7a7a7a"/>
<rect x="650.75" y="713.50" width="1.30" height="12.10" fill="#111"/>
<rect x="657.40" y="713.50" width="2.50" height="12.10" fill="#7a7a7a"/>
<rect x="665.25" y="707.00" width="1.30" height="18.60" fill="#111"/>
<rect x="671.91" y="713.50" width="2.50" height="12.10" fill="#7a7a7a"/>
<rect x="679.76" y="713.50" width="1.30" height="12.10" fill="#111"/>
<rect x="686.41" y="713.50" width="2.50" height="12.10" fill="#7a7a7a"/>
<rect x="694.26" y="713.50" width="1.30" height="12.10" fill="#111"/>
<rect x="700.91" y="713.50" width="2.50" height="12.10" fill="#7a7a7a"/>
<rect x="708.77" y="713.50" width="1.30" height="12.10" fill="#111"/>
<rect x="715.42" y="713.50" width="2.50" height="12.10" fill="#7a7a7a"/>
<rect x="723.27" y="700.20" width="1.30" height="25.40" fill="#111"/>
<rect x="729.92" y="713.50" width="2.50" height="12.10" fill="#7a7a7a"/>
<rect x="737.77" y="713.50" width="1.30" height="12.10" fill="#111"/>
<rect x="744.43" y="713.50" width="2.50" height="12.10" fill="#7a7a7a"/>
<rect x="752.28" y="713.50" width="1.30" height="12.10" fill="#111"/>
<rect x="758.93" y="713.50" width="2.50" height="12.10" fill="#7a7a7a"/>
<rect x="766.78" y="713.50" width="1.30" height="12.10" fill="#111"/>
<rect x="773.43" y="713.50" width="2.50" height="12.10" fill="#7a7a7a"/>
<rect x="781.28" y="707.00" width="1.30" height="18.60" fill="#111"/>
<rect x="787.94" y="713.50" width="2.50" height="12.10" fill="#7a7a7a"/>
<rect x="795.79" y="713.50" width="1.30" height="12.10" fill="#111"/>
<rect x="802.44" y="713.50" width="2.50" height="12.10" fill="#7a7a7a"/>
<rect x="810.29" y="713.50" width="1.30" height="12.10" fill="#111"/>
<rect x="816.94" y="713.50" width="2.50" height="12.10" fill="#7a7a7a"/>
<rect x="824.80" y="713.50" width="1.30" height="12.10" fill="#111"/>
<rect x="831.45" y="713.50" width="2.50" height="12.10" fill="#7a7a7a"/>
<rect x="839.30" y="700.20" width="1.30" height="25.40" fill="#111"/>
<rect x="845.95" y="713.50" width="2.50" height="12.10" fill="#7a7a7a"/>
<rect x="853.80" y="713.50" width="1.30" height="12.10" fill="#111"/>
<rect x="860.46" y="713.50" width="2.50" height="12.10" fill="#7a7a7a"/>
<rect x="868.31" y="713.50" width="1.30" height="12.10" fill="#111"/>
<rect x="874.96" y="713.50" width="2.50" height="12.10" fill="#7a7a7a"/>
<rect x="882.81" y="713.50" width="1.30" height="12.10" fill="#111"/>
<rect x="889.46" y="713.50" width="2.50" height="12.10" fill="#7a7a7a"/>
<rect x="897.31" y="707.00" width="1.30" height="18.60" fill="#111"/>
<rect x="903.97" y="713.50" width="2.50" height="12.10" fill="#7a7a7a"/>
<rect x="911.82" y="713.50" width="1.30" height="12.10" fill="#111"/>
<rect x="918.47" y="713.50" width="2.50" height="12.10" fill="#7a7a7a"/>
<rect x="926.32" y="713.50" width="1.30" height="12.10" fill="#111"/>
<rect x="932.97" y="713.50" width="2.50" height="12.10" fill="#7a7a7a"/>
<rect x="940.83" y="713.50" width="1.30" height="12.10" fill="#111"/>
<rect x="947.48" y="713.50" width="2.50" height="12.10" fill="#7a7a7a"/>
<rect x="955.33" y="700.20" width="1.30" height="25.40" fill="#111"/>
<rect x="234.00" y="724.75" width="26.00" height="2.50" fill="#7a7a7a"/>
<rect x="247.00" y="732.39" width="10.20" height="1.70" fill="#111"/>
<rect x="247.00" y="739.24" width="10.20" height="2.50" fill="#7a7a7a"/>
<rect x="247.00" y="746.88" width="10.20" height="1.70" fill="#111"/>
<rect x="247.00" y="753.73" width="10.20" height="2.50" fill="#7a7a7a"/>
<rect x="247.00" y="761.37" width="10.20" height="1.70" fill="#111"/>
<rect x="247.00" y="768.21" width="10.20" height="2.50" fill="#7a7a7a"/>
<rect x="247.00" y="775.86" width="10.20" height="1.70" fill="#111"/>
<rect x="240.00" y="782.70" width="17.20" height="2.50" fill="#7a7a7a"/>
<rect x="247.00" y="790.34" width="10.20" height="1.70" fill="#111"/>
<rect x="247.00" y="797.19" width="10.20" height="2.50" fill="#7a7a7a"/>
<rect x="247.00" y="804.83" width="10.20" height="1.70" fill="#111"/>
<rect x="247.00" y="811.67" width="10.20" height="2.50" fill="#7a7a7a"/>
<rect x="247.00" y="819.32" width="10.20" height="1.70" fill="#111"/>
<rect x="247.00" y="826.16" width="10.20" height="2.50" fill="#7a7a7a"/>
<rect x="247.00" y="833.81" width="10.20" height="1.70" fill="#111"/>
<rect x="234.00" y="840.65" width="23.20" height="2.50" fill="#7a7a7a"/>
<rect x="247.00" y="848.29" width="10.20" height="1.70" fill="#111"/>
<rect x="247.00" y="855.14" width="10.20" height="2.50" fill="#7a7a7a"/>
<rect x="247.00" y="862.78" width="10.20" height="1.70" fill="#111"/>
<rect x="247.00" y="869.62" width="10.20" height="2.50" fill="#7a7a7a"/>
<rect x="247.00" y="877.27" width="10.20" height="1.70" fill="#111"/>
<rect x="247.00" y="884.11" width="10.20" height="2.50" fill="#7a7a7a"/>
<rect x="247.00" y="891.76" width="10.20" height="1.70" fill="#111"/>
<rect x="240.00" y="898.60" width="17.20" height="2.50" fill="#7a7a7a"/>
<rect x="247.00" y="906.24" width="10.20" height="1.70" fill="#111"/>
<rect x="247.00" y="913.09" width="10.20" height="2.50" fill="#7a7a7a"/>
<rect x="247.00" y="920.73" width="10.20" height="1.70" fill="#111"/>
<rect x="247.00" y="927.58" width="10.20" height="2.50" fill="#7a7a7a"/>
<rect x="247.00" y="935.22" width="10.20" height="1.70" fill="#111"/>
<rect x="247.00" y="942.06" width="10.20" height="2.50" fill="#7a7a7a"/>
<rect x="247.00" y="949.71" width="10.20" height="1.70" fill="#111"/>
<rect x="234.00" y="956.55" width="23.20" height="2.50" fill="#7a7a7a"/>
<rect x="270.00" y="725.10" width="50.00" height="1.00" fill="#eadfc0"/>
<rect x="375.00" y="725.10" width="40.00" height="1.00" fill="#e9cfc8"/>
<rect x="440.00" y="725.10" width="40.00" height="1.00" fill="#9a9a9a"/>
<rect x="527.00" y="725.10" width="18.00" height="1.00" fill="#9a9a9a"/>
<rect x="605.50" y="725.10" width="18.50" height="1.00" fill="#9a9a9a"/>
<rect x="657.00" y="725.10" width="17.00" height="1.00" fill="#9a9a9a"/>
<rect x="692.00" y="725.10" width="60.00" height="1.00" fill="#eadfc0"/>
<rect x="787.00" y="725.10" width="7.00" height="1.00" fill="#9a9a9a"/>
<rect x="818.00" y="725.10" width="49.00" height="1.00" fill="#eadfc0"/>
<rect x="911.00" y="725.10" width="33.00" height="1.00" fill="#e9cfc8"/>
<clipPath id="c3"><rect x="259.80" y="727.00" width="705.70" height="236.00"/></clipPath>
<rect x="259.80" y="727.00" width="705.70" height="236.00" fill="#fcd2c0"/>
<g clip-path="url(#c3)" fill="#f1ad95" opacity="1.00"><g filter="url(#b3)">
<polygon points="378.74,813.50 377.77,814.84 377.38,817.98 377.16,835.90 377.20,869.50 377.16,903.10 377.25,921.02 377.83,924.16 378.54,925.50 379.54,925.50 380.56,924.16 380.88,921.02 381.16,903.10 380.87,869.50 381.16,835.90 380.91,817.98 380.43,814.84 379.74,813.50"/>
<polygon points="396.21,803.50 395.49,804.99 395.16,808.46 394.59,828.30 394.65,865.50 394.69,902.70 394.72,922.54 395.66,926.01 395.90,927.50 396.78,927.50 397.67,926.01 398.05,922.54 397.94,902.70 398.15,865.50 398.01,828.30 398.24,808.46 397.77,804.99 397.09,803.50"/>
<polygon points="414.81,795.50 414.18,797.12 413.23,800.90 413.39,822.50 413.40,863.00 413.22,903.50 413.53,925.10 413.85,928.88 415.12,930.50 416.24,930.50 416.65,928.88 417.38,925.10 417.72,903.50 417.90,863.00 417.89,822.50 417.42,800.90 416.80,797.12 415.93,795.50"/>
<polygon points="433.18,791.00 432.73,792.69 431.94,796.64 431.83,819.20 431.75,861.50 431.25,903.80 431.49,926.36 432.39,930.31 433.39,932.00 434.64,932.00 435.40,930.31 436.19,926.36 436.25,903.80 436.75,861.50 436.71,819.20 436.47,796.64 435.59,792.69 434.43,791.00"/>
<polygon points="603.30,791.00 602.44,792.69 601.51,796.62 601.44,819.10 601.47,861.25 601.85,903.40 601.75,925.88 602.69,929.81 603.36,931.50 604.61,931.50 605.56,929.81 606.58,925.88 606.55,903.40 606.46,861.25 606.23,819.10 605.95,796.62 605.42,792.69 604.55,791.00"/>
<polygon points="622.24,793.50 621.41,795.09 620.53,798.80 620.61,820.00 620.45,859.75 620.54,899.50 620.59,920.70 621.47,924.41 622.15,926.00 623.15,926.00 623.69,924.41 624.05,920.70 624.54,899.50 624.27,859.75 624.38,820.00 624.19,798.80 623.89,795.09 623.24,793.50"/>
<polygon points="640.85,796.00 640.31,797.47 639.75,800.90 639.67,820.50 639.63,857.25 639.78,894.00 639.70,913.60 640.25,917.03 640.79,918.50 641.67,918.50 642.32,917.03 643.04,913.60 643.13,894.00 642.87,857.25 642.96,820.50 643.00,800.90 642.36,797.47 641.73,796.00"/>
<polygon points="658.87,796.00 658.00,797.36 657.23,800.54 657.28,818.70 657.05,852.75 657.06,886.80 657.27,904.96 658.05,908.14 658.75,909.50 659.87,909.50 660.81,908.14 661.44,904.96 661.27,886.80 661.33,852.75 661.78,818.70 661.29,800.54 660.75,797.36 659.99,796.00"/>
<polygon points="470.00,720.79 471.36,721.97 474.52,722.51 492.60,722.36 526.50,722.41 560.40,722.41 578.48,722.55 581.64,722.04 583.00,720.92 583.00,719.87 581.64,719.31 578.48,718.86 560.40,718.27 526.50,718.28 492.60,718.16 474.52,718.62 471.36,719.46 470.00,719.74"/>
<polygon points="460.70,737.74 462.19,738.31 465.67,739.00 485.56,738.98 522.85,739.06 560.14,739.14 580.03,738.80 583.51,738.32 585.00,737.95 585.00,737.10 583.51,736.40 580.03,735.83 560.14,735.74 522.85,735.95 485.56,735.62 465.67,735.79 462.19,736.35 460.70,736.89"/>
<polygon points="452.40,758.23 454.03,758.85 457.82,759.20 479.52,759.58 520.20,759.43 560.88,759.33 582.58,759.35 586.37,758.66 588.00,757.77 588.00,756.77 586.37,756.02 582.58,755.73 560.88,755.33 520.20,755.60 479.52,755.58 457.82,755.83 454.03,756.49 452.40,757.23"/>
<polygon points="447.80,776.85 449.50,777.69 453.47,778.02 476.14,778.22 518.65,778.54 561.16,778.41 583.83,777.86 587.80,777.47 589.50,776.89 589.50,775.64 587.80,774.05 583.83,773.67 561.16,773.67 518.65,773.82 476.14,773.24 453.47,773.40 449.50,774.69 447.80,775.60"/>
<polygon points="448.00,947.00 449.69,948.05 453.64,948.62 476.20,949.30 518.50,949.10 560.80,949.48 583.36,949.44 587.31,948.39 589.00,947.28 589.00,945.90 587.31,944.68 583.36,944.12 560.80,944.18 518.50,944.02 476.20,944.02 453.64,944.01 449.69,944.95 448.00,945.63"/>
<polygon points="450.00,964.61 451.61,965.10 455.38,965.85 476.90,966.03 517.25,965.72 557.60,966.16 579.12,965.66 582.89,965.37 584.50,964.57 584.50,963.57 582.89,962.79 579.12,962.21 557.60,962.30 517.25,962.05 476.90,962.03 455.38,962.42 451.61,962.43 450.00,963.61"/>
<polygon points="452.40,983.70 453.96,983.90 457.58,985.11 478.32,984.91 517.20,984.95 556.08,984.77 576.82,984.78 580.44,984.26 582.00,983.44 582.00,982.44 580.44,981.96 576.82,981.29 556.08,980.99 517.20,980.97 478.32,980.99 457.58,981.28 453.96,981.64 452.40,982.70"/>
<polygon points="454.00,1001.14 455.37,1002.06 458.58,1002.65 476.90,1002.84 511.25,1002.85 545.60,1002.72 563.92,1002.32 567.13,1001.84 568.50,1000.84 568.50,999.72 567.13,999.23 563.92,998.57 545.60,998.41 511.25,998.35 476.90,998.64 458.58,998.59 455.37,999.08 454.00,1000.01"/>
<polygon points="829.44,813.50 828.47,814.84 828.08,817.98 827.86,835.90 827.90,869.50 827.86,903.10 827.95,921.02 828.53,924.16 829.24,925.50 830.24,925.50 831.26,924.16 831.58,921.02 831.86,903.10 831.57,869.50 831.86,835.90 831.61,817.98 831.13,814.84 830.44,813.50"/>
<polygon points="846.91,803.50 846.19,804.99 845.86,808.46 845.29,828.30 845.35,865.50 845.39,902.70 845.42,922.54 846.36,926.01 846.60,927.50 847.48,927.50 848.37,926.01 848.75,922.54 848.64,902.70 848.85,865.50 848.71,828.30 848.94,808.46 848.47,804.99 847.79,803.50"/>
<polygon points="865.51,795.50 864.88,797.12 863.93,800.90 864.09,822.50 864.10,863.00 863.92,903.50 864.23,925.10 864.55,928.88 865.82,930.50 866.94,930.50 867.35,928.88 868.08,925.10 868.42,903.50 868.60,863.00 868.59,822.50 868.12,800.90 867.50,797.12 866.63,795.50"/>
<polygon points="883.88,791.00 883.43,792.69 882.64,796.64 882.53,819.20 882.45,861.50 881.95,903.80 882.19,926.36 883.09,930.31 884.09,932.00 885.34,932.00 886.10,930.31 886.89,926.36 886.95,903.80 887.45,861.50 887.41,819.20 887.17,796.64 886.29,792.69 885.13,791.00"/>
<polygon points="1054.00,791.00 1053.14,792.69 1052.21,796.62 1052.14,819.10 1052.17,861.25 1052.55,903.40 1052.45,925.88 1053.39,929.81 1054.06,931.50 1055.31,931.50 1056.26,929.81 1057.28,925.88 1057.25,903.40 1057.16,861.25 1056.93,819.10 1056.65,796.62 1056.12,792.69 1055.25,791.00"/>
<polygon points="1072.94,793.50 1072.11,795.09 1071.23,798.80 1071.31,820.00 1071.15,859.75 1071.24,899.50 1071.29,920.70 1072.17,924.41 1072.85,926.00 1073.85,926.00 1074.39,924.41 1074.75,920.70 1075.24,899.50 1074.97,859.75 1075.08,820.00 1074.89,798.80 1074.59,795.09 1073.94,793.50"/>
<polygon points="1091.55,796.00 1091.01,797.47 1090.45,800.90 1090.37,820.50 1090.33,857.25 1090.48,894.00 1090.40,913.60 1090.95,917.03 1091.49,918.50 1092.37,918.50 1093.02,917.03 1093.74,913.60 1093.83,894.00 1093.57,857.25 1093.66,820.50 1093.70,800.90 1093.06,797.47 1092.43,796.00"/>
<polygon points="1109.57,796.00 1108.70,797.36 1107.93,800.54 1107.98,818.70 1107.75,852.75 1107.76,886.80 1107.97,904.96 1108.75,908.14 1109.45,909.50 1110.57,909.50 1111.51,908.14 1112.14,904.96 1111.97,886.80 1112.03,852.75 1112.48,818.70 1111.99,800.54 1111.45,797.36 1110.69,796.00"/>
<polygon points="920.70,720.79 922.06,721.97 925.22,722.51 943.30,722.36 977.20,722.41 1011.10,722.41 1029.18,722.55 1032.34,722.04 1033.70,720.92 1033.70,719.87 1032.34,719.31 1029.18,718.86 1011.10,718.27 977.20,718.28 943.30,718.16 925.22,718.62 922.06,719.46 920.70,719.74"/>
<polygon points="911.40,737.74 912.89,738.31 916.37,739.00 936.26,738.98 973.55,739.06 1010.84,739.14 1030.73,738.80 1034.21,738.32 1035.70,737.95 1035.70,737.10 1034.21,736.40 1030.73,735.83 1010.84,735.74 973.55,735.95 936.26,735.62 916.37,735.79 912.89,736.35 911.40,736.89"/>
<polygon points="903.10,758.23 904.73,758.85 908.52,759.20 930.22,759.58 970.90,759.43 1011.58,759.33 1033.28,759.35 1037.07,758.66 1038.70,757.77 1038.70,756.77 1037.07,756.02 1033.28,755.73 1011.58,755.33 970.90,755.60 930.22,755.58 908.52,755.83 904.73,756.49 903.10,757.23"/>
<polygon points="898.50,776.85 900.20,777.69 904.17,778.02 926.84,778.22 969.35,778.54 1011.86,778.41 1034.53,777.86 1038.50,777.47 1040.20,776.89 1040.20,775.64 1038.50,774.05 1034.53,773.67 1011.86,773.67 969.35,773.82 926.84,773.24 904.17,773.40 900.20,774.69 898.50,775.60"/>
<polygon points="898.70,947.00 900.39,948.05 904.34,948.62 926.90,949.30 969.20,949.10 1011.50,949.48 1034.06,949.44 1038.01,948.39 1039.70,947.28 1039.70,945.90 1038.01,944.68 1034.06,944.12 1011.50,944.18 969.20,944.02 926.90,944.02 904.34,944.01 900.39,944.95 898.70,945.63"/>
<polygon points="900.70,964.61 902.31,965.10 906.08,965.85 927.60,966.03 967.95,965.72 1008.30,966.16 1029.82,965.66 1033.59,965.37 1035.20,964.57 1035.20,963.57 1033.59,962.79 1029.82,962.21 1008.30,962.30 967.95,962.05 927.60,962.03 906.08,962.42 902.31,962.43 900.70,963.61"/>
<polygon points="903.10,983.70 904.66,983.90 908.28,985.11 929.02,984.91 967.90,984.95 1006.78,984.77 1027.52,984.78 1031.14,984.26 1032.70,983.44 1032.70,982.44 1031.14,981.96 1027.52,981.29 1006.78,980.99 967.90,980.97 929.02,980.99 908.28,981.28 904.66,981.64 903.10,982.70"/>
<polygon points="904.70,1001.14 906.07,1002.06 909.28,1002.65 927.60,1002.84 961.95,1002.85 996.30,1002.72 1014.62,1002.32 1017.83,1001.84 1019.20,1000.84 1019.20,999.72 1017.83,999.23 1014.62,998.57 996.30,998.41 961.95,998.35 927.60,998.64 909.28,998.59 906.07,999.08 904.70,1000.01"/>
</g></g>
</svg>
<div class="tt" style="left:8.0px;top:127.1px;transform:scaleX(1.000)">SMALL</div>
<div class="tt" style="left:8.0px;top:170.0px;transform:scaleX(0.940)">SCALE</div>
<div class="tt" style="left:8.6px;top:457.6px;transform:scaleX(0.980)">MEDIUM</div>
<div class="tt" style="left:8.0px;top:500.6px;transform:scaleX(0.940)">SCALE</div>
<div class="tt" style="left:8.7px;top:787.2px;transform:scaleX(0.928)">LARGE</div>
<div class="tt" style="left:8.0px;top:830.2px;transform:scaleX(0.940)">SCALE</div>
<div class="tl" style="left:362.9px;top:19.9px">1in.</div>
<div class="tl" style="left:362.7px;top:348.4px">1in.</div>
<div class="tl" style="left:363.6px;top:675.9px">1in.</div>
<div class="tl" style="left:479.4px;top:19.9px">2in.</div>
<div class="tl" style="left:479.1px;top:348.4px">2in.</div>
<div class="tl" style="left:479.4px;top:675.9px">2in.</div>
<div class="tl" style="left:596.0px;top:19.9px">3in.</div>
<div class="tl" style="left:595.6px;top:348.4px">3in.</div>
<div class="tl" style="left:595.2px;top:675.9px">3in.</div>
<div class="tl" style="left:712.5px;top:19.9px">4in.</div>
<div class="tl" style="left:712.1px;top:348.4px">4in.</div>
<div class="tl" style="left:711.0px;top:675.9px">4in.</div>
<div class="tl" style="left:829.0px;top:19.9px">5in.</div>
<div class="tl" style="left:828.5px;top:348.4px">5in.</div>
<div class="tl" style="left:826.8px;top:675.9px">5in.</div>
<div class="tl" style="left:945.6px;top:19.9px">6in.</div>
<div class="tl" style="left:945.0px;top:348.4px">6in.</div>
<div class="tl" style="left:942.6px;top:675.9px">6in.</div>
<div class="ll" style="left:231.2px;top:204.3px">1in.</div>
<div class="ll" style="left:233.4px;top:315.9px">2in.</div>
<div class="ll" style="left:231.0px;top:532.0px">1in.</div>
<div class="ll" style="left:233.4px;top:644.9px">2in.</div>
<div class="ll" style="left:231.2px;top:858.5px">1in.</div>
<div class="ll" style="left:233.4px;top:970.9px">2in.</div>
</body></html>
